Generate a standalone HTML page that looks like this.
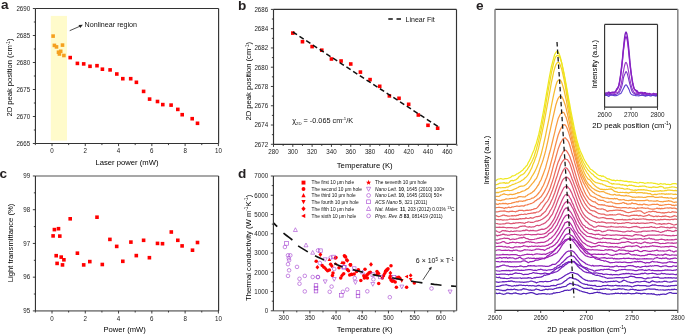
<!DOCTYPE html>
<html><head><meta charset="utf-8"><style>
html,body{margin:0;padding:0;background:#fff;width:685px;height:334px;overflow:hidden}
svg{display:block;will-change:transform}
text{font-family:"Liberation Sans",sans-serif;stroke:none}
</style></head><body>
<svg width="685" height="334" viewBox="0 0 685 334">
<rect x="50.8" y="15.9" width="16.2" height="124.7" fill="#fffbcb"/>
<rect x="51.3" y="34.3" width="3.6" height="3.6" fill="#f5a01e"/>
<rect x="52.6" y="43.6" width="3.6" height="3.6" fill="#f5a01e"/>
<rect x="54.7" y="45.1" width="3.6" height="3.6" fill="#f5a01e"/>
<rect x="60.7" y="43.3" width="3.6" height="3.6" fill="#f5a01e"/>
<rect x="56.7" y="50.4" width="3.6" height="3.6" fill="#f5a01e"/>
<rect x="58.9" y="49.5" width="3.6" height="3.6" fill="#f5a01e"/>
<rect x="57.6" y="52.2" width="3.6" height="3.6" fill="#f5a01e"/>
<rect x="62.1" y="53.7" width="3.6" height="3.6" fill="#f5a01e"/>
<rect x="68.4" y="55.8" width="3.6" height="3.6" fill="#ff0000"/>
<rect x="75.6" y="61.6" width="3.6" height="3.6" fill="#ff0000"/>
<rect x="81.9" y="62.1" width="3.6" height="3.6" fill="#ff0000"/>
<rect x="88.2" y="64.5" width="3.6" height="3.6" fill="#ff0000"/>
<rect x="95.2" y="63.9" width="3.6" height="3.6" fill="#ff0000"/>
<rect x="100.6" y="67.4" width="3.6" height="3.6" fill="#ff0000"/>
<rect x="108.3" y="68.1" width="3.6" height="3.6" fill="#ff0000"/>
<rect x="115" y="72.2" width="3.6" height="3.6" fill="#ff0000"/>
<rect x="121" y="76.9" width="3.6" height="3.6" fill="#ff0000"/>
<rect x="128.9" y="76.9" width="3.6" height="3.6" fill="#ff0000"/>
<rect x="134.6" y="80.5" width="3.6" height="3.6" fill="#ff0000"/>
<rect x="141.8" y="89.6" width="3.6" height="3.6" fill="#ff0000"/>
<rect x="147.8" y="97.3" width="3.6" height="3.6" fill="#ff0000"/>
<rect x="155.7" y="99.7" width="3.6" height="3.6" fill="#ff0000"/>
<rect x="161" y="102.8" width="3.6" height="3.6" fill="#ff0000"/>
<rect x="169.3" y="103.3" width="3.6" height="3.6" fill="#ff0000"/>
<rect x="176" y="107.6" width="3.6" height="3.6" fill="#ff0000"/>
<rect x="180.4" y="112.9" width="3.6" height="3.6" fill="#ff0000"/>
<rect x="190.4" y="116.9" width="3.6" height="3.6" fill="#ff0000"/>
<rect x="195.7" y="121.5" width="3.6" height="3.6" fill="#ff0000"/>
<path d="M35.45 8.5H218.6" stroke="#333" stroke-width="1.15"/>
<path d="M35.45 143.5H218.6" stroke="#333" stroke-width="1.15"/>
<path d="M35.45 8.5V143.5" stroke="#333" stroke-width="1.15"/>
<path d="M218.6 8.5V143.5" stroke="#333" stroke-width="1.15"/>
<path d="M52 143.5v2.6M85.28 143.5v2.6M118.56 143.5v2.6M151.84 143.5v2.6M185.12 143.5v2.6M218.4 143.5v2.6M35.36 143.5v1.6M68.64 143.5v1.6M101.92 143.5v1.6M135.2 143.5v1.6M168.48 143.5v1.6M201.76 143.5v1.6" stroke="#2a2a2a" stroke-width="0.9" fill="none"/>
<text transform="translate(52,153.1) scale(0.94,1)" font-size="6.6" text-anchor="middle" fill="#222">0</text>
<text transform="translate(85.28,153.1) scale(0.94,1)" font-size="6.6" text-anchor="middle" fill="#222">2</text>
<text transform="translate(118.56,153.1) scale(0.94,1)" font-size="6.6" text-anchor="middle" fill="#222">4</text>
<text transform="translate(151.84,153.1) scale(0.94,1)" font-size="6.6" text-anchor="middle" fill="#222">6</text>
<text transform="translate(185.12,153.1) scale(0.94,1)" font-size="6.6" text-anchor="middle" fill="#222">8</text>
<text transform="translate(218.4,153.1) scale(0.94,1)" font-size="6.6" text-anchor="middle" fill="#222">10</text>
<path d="M35.45 143.5h-2.6M35.45 116.5h-2.6M35.45 89.5h-2.6M35.45 62.5h-2.6M35.45 35.5h-2.6M35.45 8.5h-2.6M35.45 130h-1.6M35.45 103h-1.6M35.45 76h-1.6M35.45 49h-1.6M35.45 22h-1.6" stroke="#2a2a2a" stroke-width="0.9" fill="none"/>
<text transform="translate(30.15,145.8) scale(0.94,1)" font-size="6.6" text-anchor="end" fill="#222">2665</text>
<text transform="translate(30.15,118.8) scale(0.94,1)" font-size="6.6" text-anchor="end" fill="#222">2670</text>
<text transform="translate(30.15,91.8) scale(0.94,1)" font-size="6.6" text-anchor="end" fill="#222">2675</text>
<text transform="translate(30.15,64.8) scale(0.94,1)" font-size="6.6" text-anchor="end" fill="#222">2680</text>
<text transform="translate(30.15,37.8) scale(0.94,1)" font-size="6.6" text-anchor="end" fill="#222">2685</text>
<text transform="translate(30.15,10.8) scale(0.94,1)" font-size="6.6" text-anchor="end" fill="#222">2690</text>
<text transform="translate(12.3,116.60) rotate(-90)" font-size="7.6" textLength="78.11" lengthAdjust="spacingAndGlyphs" fill="#000">2D peak position (cm<tspan font-size="4.71" dy="-2.74">-1</tspan><tspan dy="2.74">)</tspan></text>
<text x="95.40" y="164.9" font-size="7.6" textLength="63.06" lengthAdjust="spacingAndGlyphs" fill="#000">Laser power (mW)</text>
<path d="M69.7 30.7L80 26.2" stroke="#222" stroke-width="0.8"/><path d="M82.8 24.8l-4.3 0.2l1.8 3.1z" fill="#222"/>
<text x="84.6" y="27" font-size="7.15" fill="#111">Nonlinear region</text>
<text x="1.0" y="8.55" font-size="13.6" font-weight="bold" fill="#231f20" stroke="none">a</text>
<rect x="291.01" y="31.3" width="3.6" height="3.6" fill="#ff0000"/>
<rect x="300.67" y="39.9" width="3.6" height="3.6" fill="#ff0000"/>
<rect x="310.32" y="44.8" width="3.6" height="3.6" fill="#ff0000"/>
<rect x="319.98" y="48.4" width="3.6" height="3.6" fill="#ff0000"/>
<rect x="329.64" y="57.2" width="3.6" height="3.6" fill="#ff0000"/>
<rect x="339.29" y="59.2" width="3.6" height="3.6" fill="#ff0000"/>
<rect x="348.95" y="62.2" width="3.6" height="3.6" fill="#ff0000"/>
<rect x="358.6" y="70.3" width="3.6" height="3.6" fill="#ff0000"/>
<rect x="368.26" y="77.8" width="3.6" height="3.6" fill="#ff0000"/>
<rect x="377.92" y="84.5" width="3.6" height="3.6" fill="#ff0000"/>
<rect x="387.57" y="94.1" width="3.6" height="3.6" fill="#ff0000"/>
<rect x="397.23" y="96.5" width="3.6" height="3.6" fill="#ff0000"/>
<rect x="406.88" y="102.5" width="3.6" height="3.6" fill="#ff0000"/>
<rect x="416.54" y="113.2" width="3.6" height="3.6" fill="#ff0000"/>
<rect x="426.2" y="123.5" width="3.6" height="3.6" fill="#ff0000"/>
<rect x="435.85" y="126.4" width="3.6" height="3.6" fill="#ff0000"/>
<path d="M292.8 32 L438.7 127" stroke="#111" stroke-width="1.5" stroke-dasharray="5 3" fill="none"/>
<path d="M273.5 9.4H456.5" stroke="#333" stroke-width="1.15"/>
<path d="M273.5 144.3H456.5" stroke="#333" stroke-width="1.15"/>
<path d="M273.5 9.4V144.3" stroke="#333" stroke-width="1.15"/>
<path d="M456.5 9.4V144.3" stroke="#333" stroke-width="1.15"/>
<path d="M273.5 144.3v2.6M292.81 144.3v2.6M312.12 144.3v2.6M331.44 144.3v2.6M350.75 144.3v2.6M370.06 144.3v2.6M389.37 144.3v2.6M408.68 144.3v2.6M428 144.3v2.6M447.31 144.3v2.6M283.16 144.3v1.6M302.47 144.3v1.6M321.78 144.3v1.6M341.09 144.3v1.6M360.4 144.3v1.6M379.72 144.3v1.6M399.03 144.3v1.6M418.34 144.3v1.6M437.65 144.3v1.6M456.96 144.3v1.6" stroke="#2a2a2a" stroke-width="0.9" fill="none"/>
<text transform="translate(273.5,153.9) scale(0.94,1)" font-size="6.6" text-anchor="middle" fill="#222">280</text>
<text transform="translate(292.81,153.9) scale(0.94,1)" font-size="6.6" text-anchor="middle" fill="#222">300</text>
<text transform="translate(312.12,153.9) scale(0.94,1)" font-size="6.6" text-anchor="middle" fill="#222">320</text>
<text transform="translate(331.44,153.9) scale(0.94,1)" font-size="6.6" text-anchor="middle" fill="#222">340</text>
<text transform="translate(350.75,153.9) scale(0.94,1)" font-size="6.6" text-anchor="middle" fill="#222">360</text>
<text transform="translate(370.06,153.9) scale(0.94,1)" font-size="6.6" text-anchor="middle" fill="#222">380</text>
<text transform="translate(389.37,153.9) scale(0.94,1)" font-size="6.6" text-anchor="middle" fill="#222">400</text>
<text transform="translate(408.68,153.9) scale(0.94,1)" font-size="6.6" text-anchor="middle" fill="#222">420</text>
<text transform="translate(428,153.9) scale(0.94,1)" font-size="6.6" text-anchor="middle" fill="#222">440</text>
<text transform="translate(447.31,153.9) scale(0.94,1)" font-size="6.6" text-anchor="middle" fill="#222">460</text>
<path d="M273.5 144.3h-2.6M273.5 125.03h-2.6M273.5 105.76h-2.6M273.5 86.48h-2.6M273.5 67.21h-2.6M273.5 47.94h-2.6M273.5 28.67h-2.6M273.5 9.4h-2.6M273.5 134.66h-1.6M273.5 115.39h-1.6M273.5 96.12h-1.6M273.5 76.85h-1.6M273.5 57.58h-1.6M273.5 38.3h-1.6M273.5 19.03h-1.6" stroke="#2a2a2a" stroke-width="0.9" fill="none"/>
<text transform="translate(268.2,146.6) scale(0.94,1)" font-size="6.6" text-anchor="end" fill="#222">2672</text>
<text transform="translate(268.2,127.33) scale(0.94,1)" font-size="6.6" text-anchor="end" fill="#222">2674</text>
<text transform="translate(268.2,108.06) scale(0.94,1)" font-size="6.6" text-anchor="end" fill="#222">2676</text>
<text transform="translate(268.2,88.78) scale(0.94,1)" font-size="6.6" text-anchor="end" fill="#222">2678</text>
<text transform="translate(268.2,69.51) scale(0.94,1)" font-size="6.6" text-anchor="end" fill="#222">2680</text>
<text transform="translate(268.2,50.24) scale(0.94,1)" font-size="6.6" text-anchor="end" fill="#222">2682</text>
<text transform="translate(268.2,30.97) scale(0.94,1)" font-size="6.6" text-anchor="end" fill="#222">2684</text>
<text transform="translate(268.2,11.7) scale(0.94,1)" font-size="6.6" text-anchor="end" fill="#222">2686</text>
<text transform="translate(251.3,120.60) rotate(-90)" font-size="7.6" textLength="78.72" lengthAdjust="spacingAndGlyphs" fill="#000">2D peak position (cm<tspan font-size="4.71" dy="-2.74">-1</tspan><tspan dy="2.74">)</tspan></text>
<text x="336.75" y="167.5" font-size="7.6" textLength="55.94" lengthAdjust="spacingAndGlyphs" fill="#000">Temperature (K)</text>
<path d="M388.3 19h4.5M396.5 19h4.5" stroke="#111" stroke-width="1.5"/>
<text x="405.6" y="21.5" font-size="7" fill="#111">Linear Fit</text>
<text x="292.2" y="122.9" font-size="7.3" fill="#111">χ<tspan font-size="4.3" dy="2">2D</tspan><tspan dy="-2"> = -0.065 cm</tspan><tspan font-size="4.3" dy="-2.8">-1</tspan><tspan dy="2.8">/K</tspan></text>
<text x="238.0" y="9.5" font-size="13.6" font-weight="bold" fill="#231f20" stroke="none">b</text>
<rect x="51.3" y="234.1" width="3.6" height="3.6" fill="#ff0000"/>
<rect x="52.6" y="227.8" width="3.6" height="3.6" fill="#ff0000"/>
<rect x="54.4" y="253.9" width="3.6" height="3.6" fill="#ff0000"/>
<rect x="55.3" y="261.6" width="3.6" height="3.6" fill="#ff0000"/>
<rect x="56.7" y="226.9" width="3.6" height="3.6" fill="#ff0000"/>
<rect x="58" y="234.3" width="3.6" height="3.6" fill="#ff0000"/>
<rect x="59.4" y="255.3" width="3.6" height="3.6" fill="#ff0000"/>
<rect x="60.7" y="263.1" width="3.6" height="3.6" fill="#ff0000"/>
<rect x="62.1" y="258" width="3.6" height="3.6" fill="#ff0000"/>
<rect x="68.4" y="217" width="3.6" height="3.6" fill="#ff0000"/>
<rect x="75.6" y="251.4" width="3.6" height="3.6" fill="#ff0000"/>
<rect x="81.9" y="263.1" width="3.6" height="3.6" fill="#ff0000"/>
<rect x="88" y="259.8" width="3.6" height="3.6" fill="#ff0000"/>
<rect x="95.2" y="215.4" width="3.6" height="3.6" fill="#ff0000"/>
<rect x="100.5" y="262.7" width="3.6" height="3.6" fill="#ff0000"/>
<rect x="108.1" y="237.6" width="3.6" height="3.6" fill="#ff0000"/>
<rect x="114.9" y="244.6" width="3.6" height="3.6" fill="#ff0000"/>
<rect x="121" y="259.5" width="3.6" height="3.6" fill="#ff0000"/>
<rect x="129.1" y="240.3" width="3.6" height="3.6" fill="#ff0000"/>
<rect x="134.5" y="253.8" width="3.6" height="3.6" fill="#ff0000"/>
<rect x="141.8" y="238.5" width="3.6" height="3.6" fill="#ff0000"/>
<rect x="147.6" y="255.9" width="3.6" height="3.6" fill="#ff0000"/>
<rect x="155.7" y="241.6" width="3.6" height="3.6" fill="#ff0000"/>
<rect x="160.7" y="241.9" width="3.6" height="3.6" fill="#ff0000"/>
<rect x="169.5" y="230.2" width="3.6" height="3.6" fill="#ff0000"/>
<rect x="176" y="238.5" width="3.6" height="3.6" fill="#ff0000"/>
<rect x="180.3" y="244.1" width="3.6" height="3.6" fill="#ff0000"/>
<rect x="190.7" y="248.4" width="3.6" height="3.6" fill="#ff0000"/>
<rect x="195.7" y="240.7" width="3.6" height="3.6" fill="#ff0000"/>
<path d="M35.45 176H218.6" stroke="#8a8a8a" stroke-width="1.6"/>
<path d="M35.45 310.9H218.6" stroke="#8a8a8a" stroke-width="1.6"/>
<path d="M35.45 176V310.9" stroke="#333" stroke-width="1.15"/>
<path d="M218.6 176V310.9" stroke="#333" stroke-width="1.15"/>
<path d="M52 310.9v2.6M85.28 310.9v2.6M118.56 310.9v2.6M151.84 310.9v2.6M185.12 310.9v2.6M218.4 310.9v2.6M35.36 310.9v1.6M68.64 310.9v1.6M101.92 310.9v1.6M135.2 310.9v1.6M168.48 310.9v1.6M201.76 310.9v1.6" stroke="#2a2a2a" stroke-width="0.9" fill="none"/>
<text transform="translate(52,320.5) scale(0.94,1)" font-size="6.6" text-anchor="middle" fill="#222">0</text>
<text transform="translate(85.28,320.5) scale(0.94,1)" font-size="6.6" text-anchor="middle" fill="#222">2</text>
<text transform="translate(118.56,320.5) scale(0.94,1)" font-size="6.6" text-anchor="middle" fill="#222">4</text>
<text transform="translate(151.84,320.5) scale(0.94,1)" font-size="6.6" text-anchor="middle" fill="#222">6</text>
<text transform="translate(185.12,320.5) scale(0.94,1)" font-size="6.6" text-anchor="middle" fill="#222">8</text>
<text transform="translate(218.4,320.5) scale(0.94,1)" font-size="6.6" text-anchor="middle" fill="#222">10</text>
<path d="M35.45 310.9h-2.6M35.45 277.17h-2.6M35.45 243.44h-2.6M35.45 209.71h-2.6M35.45 175.98h-2.6M35.45 294.03h-1.6M35.45 260.3h-1.6M35.45 226.57h-1.6M35.45 192.84h-1.6" stroke="#2a2a2a" stroke-width="0.9" fill="none"/>
<text transform="translate(30.15,313.2) scale(0.94,1)" font-size="6.6" text-anchor="end" fill="#222">95</text>
<text transform="translate(30.15,279.47) scale(0.94,1)" font-size="6.6" text-anchor="end" fill="#222">96</text>
<text transform="translate(30.15,245.74) scale(0.94,1)" font-size="6.6" text-anchor="end" fill="#222">97</text>
<text transform="translate(30.15,212.01) scale(0.94,1)" font-size="6.6" text-anchor="end" fill="#222">98</text>
<text transform="translate(30.15,178.28) scale(0.94,1)" font-size="6.6" text-anchor="end" fill="#222">99</text>
<text transform="translate(13.2,282.30) rotate(-90)" font-size="7.6" textLength="78.63" lengthAdjust="spacingAndGlyphs" fill="#000">Light transmittance (%)</text>
<text x="103.50" y="331.9" font-size="7.6" textLength="42.24" lengthAdjust="spacingAndGlyphs" fill="#000">Power (mW)</text>
<text x="-0.5" y="177.85" font-size="13.6" font-weight="bold" fill="#231f20" stroke="none">c</text>
<path d="M320.4 252.32L322.32 254.6L320.4 256.88L318.47 254.6Z" fill="#ff0000" stroke="none"/>
<circle cx="316.2" cy="261.2" r="1.75" fill="#ff0000" stroke="none"/>
<circle cx="322.2" cy="265.4" r="1.75" fill="#ff0000" stroke="none"/>
<circle cx="324" cy="267.2" r="1.75" fill="#ff0000" stroke="none"/>
<path d="M325.8 266.73L327.73 269L325.8 271.27L323.88 269Z" fill="#ff0000" stroke="none"/>
<circle cx="327.6" cy="270.7" r="1.75" fill="#ff0000" stroke="none"/>
<circle cx="329.4" cy="270.1" r="1.75" fill="#ff0000" stroke="none"/>
<path d="M317.4 264.93L319.32 267.2L317.4 269.47L315.47 267.2Z" fill="#ff0000" stroke="none"/>
<circle cx="330.6" cy="264.2" r="1.75" fill="#ff0000" stroke="none"/>
<path d="M331.8 263.73L333.73 266L331.8 268.27L329.88 266Z" fill="#ff0000" stroke="none"/>
<circle cx="336" cy="257.6" r="1.75" fill="#ff0000" stroke="none"/>
<circle cx="333" cy="273.1" r="1.75" fill="#ff0000" stroke="none"/>
<circle cx="332.4" cy="275.5" r="1.75" fill="#ff0000" stroke="none"/>
<circle cx="339" cy="267.8" r="1.75" fill="#ff0000" stroke="none"/>
<circle cx="345" cy="256.4" r="1.75" fill="#ff0000" stroke="none"/>
<circle cx="346.7" cy="260" r="1.75" fill="#ff0000" stroke="none"/>
<circle cx="350.3" cy="264.8" r="1.75" fill="#ff0000" stroke="none"/>
<circle cx="347.3" cy="269.6" r="1.75" fill="#ff0000" stroke="none"/>
<circle cx="348.5" cy="270.7" r="1.75" fill="#ff0000" stroke="none"/>
<circle cx="343.7" cy="273.7" r="1.75" fill="#ff0000" stroke="none"/>
<path d="M342 273.23L343.93 275.5L342 277.77L340.07 275.5Z" fill="#ff0000" stroke="none"/>
<circle cx="340.7" cy="277.9" r="1.75" fill="#ff0000" stroke="none"/>
<circle cx="349.7" cy="274.9" r="1.75" fill="#ff0000" stroke="none"/>
<circle cx="351.5" cy="274.3" r="1.75" fill="#ff0000" stroke="none"/>
<circle cx="343.7" cy="263" r="1.75" fill="#ff0000" stroke="none"/>
<circle cx="335.4" cy="258.1" r="1.75" fill="#ff0000" stroke="none"/>
<circle cx="344.4" cy="255.7" r="1.75" fill="#ff0000" stroke="none"/>
<circle cx="345.6" cy="256.9" r="1.75" fill="#ff0000" stroke="none"/>
<path d="M347.4 258.23L349.32 260.5L347.4 262.77L345.47 260.5Z" fill="#ff0000" stroke="none"/>
<circle cx="350.4" cy="264.7" r="1.75" fill="#ff0000" stroke="none"/>
<circle cx="350.6" cy="265" r="1.75" fill="#ff0000" stroke="none"/>
<path d="M371 262.12L372.93 264.4L371 266.67L369.07 264.4Z" fill="#ff0000" stroke="none"/>
<circle cx="358.4" cy="269.8" r="1.75" fill="#ff0000" stroke="none"/>
<circle cx="356.6" cy="271.6" r="1.75" fill="#ff0000" stroke="none"/>
<circle cx="365" cy="269.2" r="1.75" fill="#ff0000" stroke="none"/>
<circle cx="351.8" cy="274.6" r="1.75" fill="#ff0000" stroke="none"/>
<circle cx="354.2" cy="274" r="1.75" fill="#ff0000" stroke="none"/>
<circle cx="360.8" cy="280.5" r="1.75" fill="#ff0000" stroke="none"/>
<circle cx="363.8" cy="275.7" r="1.75" fill="#ff0000" stroke="none"/>
<circle cx="365.6" cy="276.9" r="1.75" fill="#ff0000" stroke="none"/>
<circle cx="366.8" cy="275.1" r="1.75" fill="#ff0000" stroke="none"/>
<circle cx="368" cy="274" r="1.75" fill="#ff0000" stroke="none"/>
<circle cx="369.2" cy="272.8" r="1.75" fill="#ff0000" stroke="none"/>
<circle cx="370.4" cy="272.2" r="1.75" fill="#ff0000" stroke="none"/>
<circle cx="364.4" cy="278.1" r="1.75" fill="#ff0000" stroke="none"/>
<circle cx="367.4" cy="278.1" r="1.75" fill="#ff0000" stroke="none"/>
<circle cx="377" cy="271.6" r="1.75" fill="#ff0000" stroke="none"/>
<path d="M378.7 271.12L380.62 273.4L378.7 275.67L376.77 273.4Z" fill="#ff0000" stroke="none"/>
<circle cx="377" cy="274.6" r="1.75" fill="#ff0000" stroke="none"/>
<circle cx="383.5" cy="275.7" r="1.75" fill="#ff0000" stroke="none"/>
<circle cx="382.3" cy="278.1" r="1.75" fill="#ff0000" stroke="none"/>
<path d="M384.7 271.12L386.62 273.4L384.7 275.67L382.77 273.4Z" fill="#ff0000" stroke="none"/>
<circle cx="387.1" cy="269.8" r="1.75" fill="#ff0000" stroke="none"/>
<circle cx="385.9" cy="271" r="1.75" fill="#ff0000" stroke="none"/>
<circle cx="378.7" cy="283.5" r="1.75" fill="#ff0000" stroke="none"/>
<circle cx="391" cy="265.8" r="1.75" fill="#ff0000" stroke="none"/>
<circle cx="386.8" cy="270" r="1.75" fill="#ff0000" stroke="none"/>
<circle cx="388" cy="268.8" r="1.75" fill="#ff0000" stroke="none"/>
<circle cx="385.6" cy="271.2" r="1.75" fill="#ff0000" stroke="none"/>
<path d="M390.4 270.73L392.32 273L390.4 275.27L388.47 273Z" fill="#ff0000" stroke="none"/>
<path d="M390.4 273.73L392.32 276L390.4 278.27L388.47 276Z" fill="#ff0000" stroke="none"/>
<circle cx="389.8" cy="277.8" r="1.75" fill="#ff0000" stroke="none"/>
<circle cx="391.6" cy="279.6" r="1.75" fill="#ff0000" stroke="none"/>
<circle cx="393.4" cy="280.7" r="1.75" fill="#ff0000" stroke="none"/>
<circle cx="395.2" cy="281.9" r="1.75" fill="#ff0000" stroke="none"/>
<circle cx="392.2" cy="281.3" r="1.75" fill="#ff0000" stroke="none"/>
<circle cx="391" cy="280.1" r="1.75" fill="#ff0000" stroke="none"/>
<path d="M397 275.53L398.93 277.8L397 280.07L395.07 277.8Z" fill="#ff0000" stroke="none"/>
<circle cx="398.8" cy="277.2" r="1.75" fill="#ff0000" stroke="none"/>
<circle cx="400" cy="278.4" r="1.75" fill="#ff0000" stroke="none"/>
<circle cx="414.3" cy="283.1" r="1.75" fill="#ff0000" stroke="none"/>
<circle cx="396.4" cy="287.3" r="1.75" fill="#ff0000" stroke="none"/>
<circle cx="406.6" cy="287.3" r="1.75" fill="#ff0000" stroke="none"/>
<path d="M329.4 257.42L331.21 260.88H327.58Z" fill="#ff0000" stroke="none"/>
<path d="M342 260.52L343.81 263.99H340.19Z" fill="#ff0000" stroke="none"/>
<path d="M335.7 261.66L336.24 263.05L337.74 263.14L336.58 264.09L336.96 265.54L335.7 264.72L334.44 265.54L334.82 264.09L333.66 263.14L335.16 263.05Z" fill="#ff0000"/>
<path d="M401.8 282.68L403.62 279.21H399.99Z" fill="#ff0000" stroke="none"/>
<path d="M410.7 281.58L412.51 278.12H408.88Z" fill="#ff0000" stroke="none"/>
<path d="M404.62 276.6L408.09 274.79V278.42Z" fill="#ff0000" stroke="none"/>
<path d="M410.7 273.25L412.51 275.4L410.7 277.54L408.88 275.4Z" fill="#ff0000" stroke="none"/>
<path d="M295.4 227.74L297.38 231.52H293.42Z" fill="none" stroke="#a23fd0" stroke-width="0.6"/>
<rect x="284.7" y="241.6" width="3.6" height="3.6" fill="none" stroke="#a23fd0" stroke-width="0.6"/>
<circle cx="284.9" cy="247" r="1.8" fill="none" stroke="#a23fd0" stroke-width="0.6"/>
<path d="M306 243.04L307.98 246.82H304.02Z" fill="none" stroke="#a23fd0" stroke-width="0.6"/>
<path d="M312.7 250.44L314.68 254.22H310.72Z" fill="none" stroke="#a23fd0" stroke-width="0.6"/>
<circle cx="288" cy="255.3" r="1.8" fill="none" stroke="#a23fd0" stroke-width="0.6"/>
<circle cx="290.3" cy="255.3" r="1.8" fill="none" stroke="#a23fd0" stroke-width="0.6"/>
<circle cx="288.7" cy="258.2" r="1.8" fill="none" stroke="#a23fd0" stroke-width="0.6"/>
<circle cx="289.1" cy="260.2" r="1.8" fill="none" stroke="#a23fd0" stroke-width="0.6"/>
<circle cx="288" cy="264.2" r="1.8" fill="none" stroke="#a23fd0" stroke-width="0.6"/>
<circle cx="297" cy="266.9" r="1.8" fill="none" stroke="#a23fd0" stroke-width="0.6"/>
<circle cx="289.1" cy="270.3" r="1.8" fill="none" stroke="#a23fd0" stroke-width="0.6"/>
<circle cx="288" cy="275.9" r="1.8" fill="none" stroke="#a23fd0" stroke-width="0.6"/>
<circle cx="304.8" cy="275.9" r="1.8" fill="none" stroke="#a23fd0" stroke-width="0.6"/>
<circle cx="299.5" cy="278.8" r="1.8" fill="none" stroke="#a23fd0" stroke-width="0.6"/>
<circle cx="299.5" cy="283.7" r="1.8" fill="none" stroke="#a23fd0" stroke-width="0.6"/>
<circle cx="312.7" cy="277" r="1.8" fill="none" stroke="#a23fd0" stroke-width="0.6"/>
<circle cx="317.8" cy="277" r="1.8" fill="none" stroke="#a23fd0" stroke-width="0.6"/>
<rect x="314.2" y="283.7" width="3.6" height="3.6" fill="none" stroke="#a23fd0" stroke-width="0.6"/>
<rect x="314.2" y="286.4" width="3.6" height="3.6" fill="none" stroke="#a23fd0" stroke-width="0.6"/>
<rect x="314.2" y="289.3" width="3.6" height="3.6" fill="none" stroke="#a23fd0" stroke-width="0.6"/>
<circle cx="304.8" cy="291.4" r="1.8" fill="none" stroke="#a23fd0" stroke-width="0.6"/>
<circle cx="318" cy="250.4" r="1.8" fill="none" stroke="#a23fd0" stroke-width="0.6"/>
<rect x="318.6" y="248.9" width="3.6" height="3.6" fill="none" stroke="#a23fd0" stroke-width="0.6"/>
<path d="M325.2 261.56L327.18 257.78H323.22Z" fill="none" stroke="#a23fd0" stroke-width="0.6"/>
<circle cx="319.8" cy="263" r="1.8" fill="none" stroke="#a23fd0" stroke-width="0.6"/>
<circle cx="330.6" cy="257.6" r="1.8" fill="none" stroke="#a23fd0" stroke-width="0.6"/>
<rect x="331.8" y="255.2" width="3.6" height="3.6" fill="none" stroke="#a23fd0" stroke-width="0.6"/>
<circle cx="334.2" cy="269" r="1.8" fill="none" stroke="#a23fd0" stroke-width="0.6"/>
<rect x="341.9" y="265.4" width="3.6" height="3.6" fill="none" stroke="#a23fd0" stroke-width="0.6"/>
<circle cx="318" cy="277.1" r="1.8" fill="none" stroke="#a23fd0" stroke-width="0.6"/>
<path d="M325.2 283.66L327.18 279.88H323.22Z" fill="none" stroke="#a23fd0" stroke-width="0.6"/>
<path d="M334.2 281.26L336.18 277.48H332.22Z" fill="none" stroke="#a23fd0" stroke-width="0.6"/>
<rect x="352.4" y="266.8" width="3.6" height="3.6" fill="none" stroke="#a23fd0" stroke-width="0.6"/>
<path d="M362.6 270.04L364.58 273.82H360.62Z" fill="none" stroke="#a23fd0" stroke-width="0.6"/>
<circle cx="354.8" cy="278.1" r="1.8" fill="none" stroke="#a23fd0" stroke-width="0.6"/>
<path d="M355.4 284.46L357.38 280.68H353.42Z" fill="none" stroke="#a23fd0" stroke-width="0.6"/>
<rect x="371" y="272.8" width="3.6" height="3.6" fill="none" stroke="#a23fd0" stroke-width="0.6"/>
<circle cx="373.4" cy="279.3" r="1.8" fill="none" stroke="#a23fd0" stroke-width="0.6"/>
<path d="M372.8 286.26L374.78 282.48H370.82Z" fill="none" stroke="#a23fd0" stroke-width="0.6"/>
<rect x="378.7" y="275.2" width="3.6" height="3.6" fill="none" stroke="#a23fd0" stroke-width="0.6"/>
<rect x="392.2" y="275.4" width="3.6" height="3.6" fill="none" stroke="#a23fd0" stroke-width="0.6"/>
<path d="M401.8 288.86L403.78 285.08H399.82Z" fill="none" stroke="#a23fd0" stroke-width="0.6"/>
<rect x="342.6" y="265.3" width="3.6" height="3.6" fill="none" stroke="#a23fd0" stroke-width="0.6"/>
<circle cx="331.6" cy="286.6" r="1.8" fill="none" stroke="#a23fd0" stroke-width="0.6"/>
<circle cx="329.7" cy="291.8" r="1.8" fill="none" stroke="#a23fd0" stroke-width="0.6"/>
<circle cx="342.9" cy="291.8" r="1.8" fill="none" stroke="#a23fd0" stroke-width="0.6"/>
<circle cx="347.2" cy="289.5" r="1.8" fill="none" stroke="#a23fd0" stroke-width="0.6"/>
<rect x="339.5" y="293.5" width="3.6" height="3.6" fill="none" stroke="#a23fd0" stroke-width="0.6"/>
<rect x="356.2" y="290.7" width="3.6" height="3.6" fill="none" stroke="#a23fd0" stroke-width="0.6"/>
<rect x="356.2" y="294.2" width="3.6" height="3.6" fill="none" stroke="#a23fd0" stroke-width="0.6"/>
<circle cx="367.3" cy="291.3" r="1.8" fill="none" stroke="#a23fd0" stroke-width="0.6"/>
<circle cx="389.8" cy="297.2" r="1.8" fill="none" stroke="#a23fd0" stroke-width="0.6"/>
<circle cx="431.5" cy="288.5" r="1.8" fill="none" stroke="#a23fd0" stroke-width="0.6"/>
<path d="M450.1 293.86L452.08 290.08H448.12Z" fill="none" stroke="#a23fd0" stroke-width="0.6"/>
<path d="M273.4 222.8L274.7 224.1L275.9 225.4L277.2 226.7M283.5 233.2L286.5 235.5L289.4 237.7L292.4 240.0M298.1 245.9L301.3 247.9L304.6 249.9L307.8 251.9M315.0 255.8L318.0 257.2L321.0 258.6L324.0 260.0M334.2 263.5L337.0 264.7L339.7 265.8L342.5 267.0M353.0 269.6L356.3 270.5L359.7 271.4L363.0 272.3M372.5 274.6L375.3 275.1L378.2 275.7L381.0 276.2M392.2 277.7L395.7 278.5L399.2 279.2L402.7 280.0M411.0 281.1L414.8 281.7L418.6 282.3L422.4 282.9M430.7 283.9L434.3 284.4L437.9 284.8L441.5 285.3M451.0 286.0L452.9 286.1L454.7 286.3L456.6 286.4" stroke="#111" stroke-width="1.65" fill="none"/>
<path d="M422.9 279.9L430.4 268.6" stroke="#222" stroke-width="0.8"/><path d="M431.8 266.7l-3.2 1.6l2.4 1.6z" fill="#222"/>
<text x="415.8" y="263.3" font-size="7" fill="#111">6 × 10<tspan font-size="4.5" dy="-2.5">5</tspan><tspan dy="2.5"> × T</tspan><tspan font-size="4.5" dy="-2.5">-1</tspan></text>
<path d="M273.4 176H456.6" stroke="#8a8a8a" stroke-width="1.6"/>
<path d="M273.4 310.8H456.6" stroke="#8a8a8a" stroke-width="1.6"/>
<path d="M273.4 176V310.8" stroke="#333" stroke-width="1.15"/>
<path d="M456.6 176V310.8" stroke="#555" stroke-width="1.3"/>
<path d="M283.7 310.8v2.6M309.88 310.8v2.6M336.07 310.8v2.6M362.25 310.8v2.6M388.44 310.8v2.6M414.62 310.8v2.6M440.81 310.8v2.6M296.79 310.8v1.6M322.98 310.8v1.6M349.16 310.8v1.6M375.35 310.8v1.6M401.53 310.8v1.6M427.72 310.8v1.6M453.9 310.8v1.6" stroke="#2a2a2a" stroke-width="0.9" fill="none"/>
<text transform="translate(283.7,320.4) scale(0.94,1)" font-size="6.6" text-anchor="middle" fill="#222">300</text>
<text transform="translate(309.88,320.4) scale(0.94,1)" font-size="6.6" text-anchor="middle" fill="#222">350</text>
<text transform="translate(336.07,320.4) scale(0.94,1)" font-size="6.6" text-anchor="middle" fill="#222">400</text>
<text transform="translate(362.25,320.4) scale(0.94,1)" font-size="6.6" text-anchor="middle" fill="#222">450</text>
<text transform="translate(388.44,320.4) scale(0.94,1)" font-size="6.6" text-anchor="middle" fill="#222">500</text>
<text transform="translate(414.62,320.4) scale(0.94,1)" font-size="6.6" text-anchor="middle" fill="#222">550</text>
<text transform="translate(440.81,320.4) scale(0.94,1)" font-size="6.6" text-anchor="middle" fill="#222">600</text>
<path d="M273.4 310.8h-2.6M273.4 291.54h-2.6M273.4 272.29h-2.6M273.4 253.03h-2.6M273.4 233.77h-2.6M273.4 214.52h-2.6M273.4 195.26h-2.6M273.4 176h-2.6M273.4 301.17h-1.6M273.4 281.91h-1.6M273.4 262.66h-1.6M273.4 243.4h-1.6M273.4 224.14h-1.6M273.4 204.89h-1.6M273.4 185.63h-1.6" stroke="#2a2a2a" stroke-width="0.9" fill="none"/>
<text transform="translate(268.1,313.1) scale(0.94,1)" font-size="6.6" text-anchor="end" fill="#222">0</text>
<text transform="translate(268.1,293.84) scale(0.94,1)" font-size="6.6" text-anchor="end" fill="#222">1000</text>
<text transform="translate(268.1,274.59) scale(0.94,1)" font-size="6.6" text-anchor="end" fill="#222">2000</text>
<text transform="translate(268.1,255.33) scale(0.94,1)" font-size="6.6" text-anchor="end" fill="#222">3000</text>
<text transform="translate(268.1,236.07) scale(0.94,1)" font-size="6.6" text-anchor="end" fill="#222">4000</text>
<text transform="translate(268.1,216.82) scale(0.94,1)" font-size="6.6" text-anchor="end" fill="#222">5000</text>
<text transform="translate(268.1,197.56) scale(0.94,1)" font-size="6.6" text-anchor="end" fill="#222">6000</text>
<text transform="translate(268.1,178.3) scale(0.94,1)" font-size="6.6" text-anchor="end" fill="#222">7000</text>
<text transform="translate(250.5,300.95) rotate(-90)" font-size="7.6" textLength="106.20" lengthAdjust="spacingAndGlyphs" fill="#000">Thermal conductivity (W m<tspan font-size="4.7" dy="-2.7">-1</tspan><tspan dy="2.7">K</tspan><tspan font-size="4.7" dy="-2.7">-1</tspan><tspan dy="2.7">)</tspan></text>
<text x="336.75" y="331.9" font-size="7.6" textLength="55.94" lengthAdjust="spacingAndGlyphs" fill="#000">Temperature (K)</text>
<rect x="301.55" y="180.65" width="3.9" height="3.9" fill="#ff0000" stroke="none"/>
<text x="311.6" y="184.4" font-size="4.8" fill="#111">The first 10 μm hole</text>
<circle cx="303.5" cy="189" r="1.95" fill="#ff0000" stroke="none"/>
<text x="311.6" y="190.8" font-size="4.8" fill="#111">The second 10 μm hole</text>
<path d="M303.5 193.06L305.64 197.16H301.36Z" fill="#ff0000" stroke="none"/>
<text x="311.6" y="197.2" font-size="4.8" fill="#111">The third 10 μm hole</text>
<path d="M303.5 204.14L305.64 200.05H301.36Z" fill="#ff0000" stroke="none"/>
<text x="311.6" y="203.6" font-size="4.8" fill="#111">The fourth 10 μm hole</text>
<path d="M303.5 206.27L305.64 208.8L303.5 211.34L301.36 208.8Z" fill="#ff0000" stroke="none"/>
<text x="311.6" y="210.6" font-size="4.8" fill="#111">The fifth 10 μm hole</text>
<path d="M301.16 215.9L305.25 213.75V218.05Z" fill="#ff0000" stroke="none"/>
<text x="311.6" y="217.7" font-size="4.8" fill="#111">The sixth 10 μm hole</text>
<path d="M368.6 179.87L369.29 181.65L371.2 181.76L369.72 182.96L370.2 184.81L368.6 183.78L367 184.81L367.48 182.96L366 181.76L367.91 181.65Z" fill="#ff0000"/>
<text x="375.1" y="184.4" font-size="4.8" fill="#111">The seventh 10 μm hole</text>
<path d="M368.6 191.28L370.69 187.29H366.51Z" fill="none" stroke="#a23fd0" stroke-width="0.6"/>
<text x="375.1" y="190.8" font-size="4.8" fill="#111"><tspan font-style="italic">Nano Lett.</tspan> <tspan font-weight="bold">10</tspan>, 1645 (2010) 100×</text>
<circle cx="368.6" cy="195.4" r="1.9" fill="none" stroke="#a23fd0" stroke-width="0.6"/>
<text x="375.1" y="197.2" font-size="4.8" fill="#111"><tspan font-style="italic">Nano Lett.</tspan> <tspan font-weight="bold">10</tspan>, 1645 (2010) 50×</text>
<rect x="366.7" y="199.9" width="3.8" height="3.8" fill="none" stroke="#a23fd0" stroke-width="0.6"/>
<text x="375.1" y="203.6" font-size="4.8" fill="#111"><tspan font-style="italic">ACS Nano</tspan> <tspan font-weight="bold">5</tspan>, 321 (2011)</text>
<path d="M368.6 206.52L370.69 210.51H366.51Z" fill="none" stroke="#a23fd0" stroke-width="0.6"/>
<text x="375.1" y="210.6" font-size="4.8" fill="#111"><tspan font-style="italic">Nat. Mater.</tspan> <tspan font-weight="bold">11</tspan>, 203 (2012) 0.01% <tspan font-size="3.5" dy="-1.8">13</tspan><tspan dy="1.8">C</tspan></text>
<circle cx="368.6" cy="215.9" r="1.9" fill="none" stroke="#a23fd0" stroke-width="0.6"/>
<text x="375.1" y="217.7" font-size="4.8" fill="#111"><tspan font-style="italic">Phys. Rev. B</tspan> <tspan font-weight="bold">83</tspan>, 081419 (2011)</text>
<text x="238.1" y="177.9" font-size="13.6" font-weight="bold" fill="#231f20" stroke="none">d</text>
<polyline points="495.0,293.8 496.1,293.1 497.3,293.6 498.4,293.4 499.6,293.1 500.7,293.5 501.9,293.8 503.0,294.3 504.2,294.2 505.3,294.0 506.5,293.2 507.6,293.0 508.8,293.1 509.9,293.7 511.1,293.7 512.2,293.8 513.4,293.2 514.5,293.1 515.7,292.8 516.8,293.5 518.0,293.7 519.1,293.9 520.3,294.1 521.4,294.1 522.6,293.6 523.7,293.4 524.9,293.5 526.0,293.8 527.2,293.3 528.3,293.1 529.5,292.8 530.6,292.6 531.8,292.7 532.9,292.9 534.1,293.3 535.2,293.9 536.4,294.3 537.5,294.3 538.7,293.8 539.8,293.9 541.0,293.9 542.1,293.7 543.3,293.7 544.4,293.7 545.6,293.8 546.7,294.1 547.9,293.9 549.0,294.0 550.2,294.0 551.3,293.8 552.5,293.8 553.6,292.9 554.8,293.2 555.9,292.7 557.1,292.6 558.2,292.5 559.4,292.3 560.5,292.0 561.7,291.5 562.8,291.4 564.0,290.7 565.1,290.3 566.3,290.3 567.4,290.0 568.6,290.4 569.7,290.2 570.9,289.8 572.0,288.9 573.2,288.4 574.3,288.4 575.5,288.9 576.6,289.1 577.8,289.8 578.9,290.2 580.1,290.9 581.2,291.0 582.4,291.7 583.5,291.8 584.7,292.1 585.8,292.5 587.0,292.7 588.1,293.1 589.3,293.5 590.4,293.5 591.6,293.4 592.7,293.3 593.9,292.9 595.0,292.7 596.2,292.5 597.3,292.2 598.5,292.6 599.6,292.3 600.8,293.0 601.9,293.2 603.1,293.6 604.2,293.6 605.4,293.7 606.5,294.1 607.7,294.0 608.8,294.0 610.0,294.0 611.1,293.9 612.3,293.8 613.4,293.6 614.6,293.6 615.7,293.2 616.9,293.5 618.0,293.2 619.2,293.5 620.3,293.6 621.5,293.1 622.6,293.6 623.8,293.6 624.9,293.4 626.1,293.6 627.2,293.3 628.4,293.1 629.5,293.5 630.7,293.7 631.8,293.9 633.0,293.5 634.1,293.6 635.3,293.4 636.4,292.9 637.6,293.1 638.7,293.3 639.9,293.4 641.0,293.9 642.2,293.6 643.3,293.3 644.5,293.3 645.6,293.5 646.8,294.0 647.9,293.7 649.1,293.8 650.2,293.8 651.4,293.7 652.5,294.1 653.7,293.8 654.8,294.4 656.0,294.6 657.1,295.0 658.3,294.5 659.4,294.9 660.6,294.4 661.7,294.3 662.9,294.2 664.0,294.2 665.2,294.4 666.3,294.1 667.5,293.5 668.6,293.0 669.8,292.6 670.9,292.7 672.1,293.1 673.2,293.3 674.4,293.3 675.5,293.4 676.7,293.4 677.8,293.2" fill="none" stroke="#5222b8" stroke-width="1.25" stroke-linejoin="round"/>
<polyline points="495.0,289.3 496.1,289.5 497.3,289.5 498.4,289.6 499.6,290.0 500.7,290.0 501.9,290.3 503.0,290.7 504.2,290.4 505.3,290.6 506.5,289.9 507.6,289.4 508.8,289.6 509.9,289.6 511.1,289.4 512.2,289.7 513.4,289.4 514.5,289.0 515.7,289.7 516.8,289.6 518.0,290.2 519.1,290.0 520.3,289.9 521.4,289.9 522.6,289.0 523.7,288.7 524.9,289.1 526.0,289.2 527.2,289.5 528.3,289.8 529.5,290.1 530.6,289.9 531.8,290.3 532.9,290.2 534.1,290.2 535.2,289.4 536.4,289.0 537.5,289.5 538.7,289.7 539.8,290.1 541.0,290.3 542.1,290.4 543.3,289.9 544.4,289.8 545.6,289.2 546.7,289.3 547.9,289.6 549.0,289.0 550.2,289.0 551.3,289.0 552.5,289.4 553.6,289.2 554.8,288.5 555.9,288.4 557.1,287.9 558.2,287.8 559.4,287.4 560.5,287.6 561.7,287.1 562.8,286.9 564.0,286.7 565.1,286.5 566.3,286.1 567.4,284.9 568.6,284.3 569.7,283.4 570.9,283.7 572.0,283.9 573.2,284.2 574.3,284.3 575.5,284.7 576.6,285.0 577.8,285.1 578.9,285.8 580.1,286.3 581.2,287.0 582.4,287.5 583.5,288.2 584.7,288.3 585.8,288.3 587.0,288.2 588.1,288.3 589.3,288.4 590.4,288.0 591.6,288.1 592.7,288.8 593.9,289.1 595.0,289.3 596.2,289.4 597.3,289.6 598.5,289.6 599.6,289.6 600.8,289.1 601.9,289.3 603.1,288.9 604.2,289.2 605.4,288.5 606.5,288.9 607.7,289.1 608.8,289.1 610.0,289.5 611.1,289.8 612.3,289.7 613.4,289.4 614.6,289.3 615.7,289.4 616.9,289.3 618.0,288.9 619.2,288.7 620.3,288.8 621.5,289.1 622.6,288.9 623.8,289.0 624.9,289.5 626.1,289.5 627.2,289.8 628.4,290.0 629.5,289.9 630.7,289.4 631.8,289.5 633.0,289.2 634.1,289.8 635.3,289.6 636.4,289.9 637.6,290.3 638.7,290.2 639.9,290.3 641.0,290.2 642.2,290.2 643.3,289.9 644.5,289.6 645.6,289.7 646.8,289.2 647.9,289.0 649.1,288.9 650.2,289.2 651.4,289.1 652.5,289.1 653.7,289.0 654.8,289.2 656.0,289.6 657.1,289.5 658.3,289.9 659.4,290.0 660.6,289.9 661.7,290.0 662.9,289.9 664.0,290.2 665.2,290.2 666.3,289.8 667.5,289.8 668.6,289.5 669.8,289.9 670.9,289.7 672.1,289.4 673.2,289.6 674.4,289.2 675.5,289.5 676.7,289.7 677.8,289.6" fill="none" stroke="#5822b9" stroke-width="1.25" stroke-linejoin="round"/>
<polyline points="495.0,286.3 496.1,286.5 497.3,286.3 498.4,286.3 499.6,286.2 500.7,285.6 501.9,285.3 503.0,285.0 504.2,285.0 505.3,284.9 506.5,284.7 507.6,285.2 508.8,285.6 509.9,285.5 511.1,286.0 512.2,286.0 513.4,286.0 514.5,285.5 515.7,286.0 516.8,285.4 518.0,285.6 519.1,285.2 520.3,285.0 521.4,285.2 522.6,285.5 523.7,285.3 524.9,285.5 526.0,285.5 527.2,285.3 528.3,285.8 529.5,285.7 530.6,285.6 531.8,285.8 532.9,285.5 534.1,285.8 535.2,286.2 536.4,286.2 537.5,285.6 538.7,285.3 539.8,285.7 541.0,286.0 542.1,286.0 543.3,286.2 544.4,286.6 545.6,286.3 546.7,286.4 547.9,286.4 549.0,286.3 550.2,286.1 551.3,285.7 552.5,285.7 553.6,285.4 554.8,285.6 555.9,285.7 557.1,284.8 558.2,284.3 559.4,284.2 560.5,283.9 561.7,283.5 562.8,282.8 564.0,281.7 565.1,280.9 566.3,280.3 567.4,279.0 568.6,278.5 569.7,277.5 570.9,277.7 572.0,277.9 573.2,278.4 574.3,278.9 575.5,278.9 576.6,279.6 577.8,280.1 578.9,281.0 580.1,282.1 581.2,282.8 582.4,283.5 583.5,283.8 584.7,284.1 585.8,284.5 587.0,284.4 588.1,285.1 589.3,285.2 590.4,285.3 591.6,285.3 592.7,285.6 593.9,285.7 595.0,285.4 596.2,286.1 597.3,286.5 598.5,286.4 599.6,286.4 600.8,286.5 601.9,286.1 603.1,285.5 604.2,285.6 605.4,285.5 606.5,285.5 607.7,285.1 608.8,285.7 610.0,285.6 611.1,285.8 612.3,285.7 613.4,285.8 614.6,285.5 615.7,285.3 616.9,285.6 618.0,285.9 619.2,285.7 620.3,286.0 621.5,285.8 622.6,285.6 623.8,286.0 624.9,285.6 626.1,286.0 627.2,285.7 628.4,286.0 629.5,286.0 630.7,286.3 631.8,286.9 633.0,286.5 634.1,286.1 635.3,285.7 636.4,285.6 637.6,285.3 638.7,285.4 639.9,285.7 641.0,285.6 642.2,285.5 643.3,285.6 644.5,285.6 645.6,285.7 646.8,286.2 647.9,286.2 649.1,286.2 650.2,285.7 651.4,285.3 652.5,284.9 653.7,285.1 654.8,284.8 656.0,285.2 657.1,285.5 658.3,285.7 659.4,285.7 660.6,285.5 661.7,285.8 662.9,285.7 664.0,286.1 665.2,286.0 666.3,286.1 667.5,286.3 668.6,285.9 669.8,286.1 670.9,285.6 672.1,285.5 673.2,285.7 674.4,285.7 675.5,285.3 676.7,285.3 677.8,285.0" fill="none" stroke="#5e22bb" stroke-width="1.25" stroke-linejoin="round"/>
<polyline points="495.0,281.7 496.1,281.8 497.3,282.1 498.4,282.4 499.6,282.2 500.7,282.0 501.9,281.9 503.0,281.7 504.2,281.9 505.3,281.6 506.5,281.6 507.6,281.5 508.8,281.2 509.9,281.4 511.1,280.9 512.2,281.2 513.4,281.7 514.5,281.5 515.7,282.0 516.8,281.8 518.0,282.0 519.1,281.9 520.3,282.1 521.4,282.1 522.6,282.2 523.7,282.4 524.9,282.1 526.0,282.1 527.2,281.9 528.3,281.8 529.5,281.5 530.6,281.1 531.8,281.2 532.9,281.5 534.1,281.8 535.2,282.1 536.4,282.9 537.5,282.3 538.7,282.0 539.8,281.6 541.0,281.5 542.1,281.6 543.3,281.9 544.4,281.5 545.6,281.4 546.7,281.6 547.9,281.7 549.0,281.5 550.2,281.3 551.3,280.9 552.5,280.3 553.6,280.0 554.8,279.8 555.9,279.7 557.1,280.2 558.2,279.8 559.4,278.8 560.5,278.5 561.7,277.7 562.8,277.1 564.0,276.3 565.1,275.4 566.3,274.8 567.4,274.2 568.6,273.7 569.7,273.0 570.9,272.4 572.0,272.6 573.2,272.6 574.3,273.2 575.5,273.5 576.6,273.8 577.8,274.2 578.9,275.2 580.1,276.4 581.2,277.1 582.4,278.3 583.5,279.0 584.7,279.6 585.8,280.3 587.0,280.4 588.1,281.0 589.3,280.8 590.4,281.1 591.6,280.9 592.7,281.1 593.9,280.7 595.0,280.8 596.2,280.6 597.3,280.9 598.5,281.0 599.6,281.0 600.8,281.6 601.9,281.7 603.1,282.4 604.2,282.0 605.4,281.6 606.5,282.2 607.7,281.9 608.8,281.6 610.0,281.7 611.1,281.4 612.3,281.5 613.4,281.1 614.6,281.3 615.7,281.0 616.9,281.2 618.0,281.7 619.2,282.4 620.3,282.0 621.5,281.6 622.6,280.9 623.8,280.1 624.9,280.5 626.1,281.0 627.2,281.6 628.4,282.0 629.5,282.1 630.7,282.6 631.8,282.7 633.0,282.8 634.1,282.2 635.3,282.1 636.4,281.5 637.6,281.6 638.7,281.8 639.9,282.0 641.0,281.6 642.2,281.5 643.3,281.4 644.5,281.2 645.6,281.4 646.8,281.9 647.9,282.2 649.1,282.7 650.2,282.1 651.4,281.4 652.5,280.8 653.7,281.3 654.8,281.7 656.0,281.8 657.1,282.1 658.3,281.9 659.4,281.7 660.6,282.0 661.7,281.8 662.9,281.8 664.0,281.2 665.2,281.3 666.3,281.4 667.5,281.9 668.6,282.0 669.8,282.1 670.9,281.8 672.1,281.8 673.2,281.2 674.4,281.0 675.5,281.1 676.7,281.2 677.8,281.7" fill="none" stroke="#6422bc" stroke-width="1.25" stroke-linejoin="round"/>
<polyline points="495.0,277.0 496.1,277.1 497.3,277.5 498.4,277.7 499.6,277.2 500.7,278.2 501.9,278.0 503.0,278.4 504.2,278.2 505.3,278.4 506.5,278.5 507.6,278.5 508.8,278.4 509.9,278.2 511.1,277.7 512.2,277.8 513.4,278.1 514.5,278.2 515.7,278.2 516.8,278.2 518.0,278.2 519.1,278.0 520.3,277.9 521.4,278.5 522.6,278.1 523.7,278.2 524.9,278.0 526.0,278.2 527.2,278.1 528.3,277.6 529.5,277.9 530.6,277.9 531.8,278.5 532.9,278.3 534.1,277.7 535.2,277.8 536.4,277.3 537.5,277.3 538.7,277.4 539.8,277.2 541.0,277.1 542.1,276.7 543.3,275.9 544.4,275.0 545.6,275.3 546.7,274.8 547.9,274.6 549.0,274.4 550.2,273.7 551.3,272.8 552.5,271.7 553.6,270.9 554.8,269.7 555.9,269.1 557.1,268.3 558.2,267.8 559.4,267.3 560.5,266.3 561.7,266.7 562.8,264.9 564.0,264.2 565.1,263.4 566.3,262.8 567.4,262.4 568.6,261.7 569.7,261.9 570.9,261.9 572.0,261.4 573.2,261.3 574.3,261.4 575.5,262.8 576.6,263.7 577.8,264.4 578.9,265.2 580.1,265.7 581.2,266.1 582.4,266.9 583.5,267.6 584.7,268.3 585.8,269.1 587.0,269.7 588.1,270.6 589.3,271.7 590.4,272.3 591.6,273.0 592.7,274.1 593.9,274.5 595.0,275.0 596.2,275.3 597.3,275.1 598.5,275.5 599.6,275.8 600.8,276.2 601.9,276.7 603.1,276.9 604.2,277.0 605.4,277.7 606.5,278.0 607.7,278.4 608.8,278.2 610.0,278.0 611.1,278.0 612.3,278.1 613.4,278.0 614.6,277.8 615.7,277.7 616.9,277.5 618.0,277.5 619.2,277.5 620.3,277.5 621.5,277.8 622.6,277.7 623.8,277.8 624.9,277.5 626.1,277.4 627.2,277.4 628.4,277.1 629.5,276.5 630.7,276.2 631.8,276.4 633.0,276.6 634.1,276.6 635.3,277.4 636.4,277.6 637.6,277.7 638.7,277.5 639.9,277.5 641.0,277.6 642.2,277.8 643.3,278.4 644.5,278.7 645.6,278.8 646.8,278.3 647.9,277.9 649.1,278.1 650.2,278.0 651.4,277.9 652.5,277.7 653.7,277.2 654.8,277.3 656.0,277.3 657.1,277.4 658.3,277.2 659.4,277.9 660.6,278.2 661.7,278.0 662.9,278.0 664.0,278.0 665.2,277.6 666.3,277.8 667.5,277.8 668.6,277.7 669.8,277.8 670.9,277.7 672.1,278.1 673.2,277.9 674.4,277.9 675.5,278.2 676.7,277.9 677.8,278.2" fill="none" stroke="#6d21bc" stroke-width="1.25" stroke-linejoin="round"/>
<polyline points="495.0,274.4 496.1,274.1 497.3,274.5 498.4,274.4 499.6,274.3 500.7,274.1 501.9,274.2 503.0,274.1 504.2,274.0 505.3,274.2 506.5,274.5 507.6,274.4 508.8,274.8 509.9,274.2 511.1,274.4 512.2,274.4 513.4,273.8 514.5,273.3 515.7,272.9 516.8,273.1 518.0,273.5 519.1,273.3 520.3,273.5 521.4,273.7 522.6,274.3 523.7,274.6 524.9,274.4 526.0,274.4 527.2,274.3 528.3,274.3 529.5,273.7 530.6,273.5 531.8,273.3 532.9,272.7 534.1,272.7 535.2,273.2 536.4,273.2 537.5,273.3 538.7,273.5 539.8,273.6 541.0,273.9 542.1,273.6 543.3,273.6 544.4,273.0 545.6,273.1 546.7,273.5 547.9,273.5 549.0,273.9 550.2,273.5 551.3,273.2 552.5,273.1 553.6,272.7 554.8,272.2 555.9,271.9 557.1,271.5 558.2,270.7 559.4,269.7 560.5,268.7 561.7,267.5 562.8,266.9 564.0,266.0 565.1,264.8 566.3,264.3 567.4,263.5 568.6,262.6 569.7,262.5 570.9,262.0 572.0,261.6 573.2,261.8 574.3,262.2 575.5,263.5 576.6,264.7 577.8,266.3 578.9,267.3 580.1,268.5 581.2,269.1 582.4,270.3 583.5,271.2 584.7,271.8 585.8,272.2 587.0,272.7 588.1,272.7 589.3,272.9 590.4,273.1 591.6,273.1 592.7,273.3 593.9,272.9 595.0,273.2 596.2,272.8 597.3,273.0 598.5,273.3 599.6,273.7 600.8,273.6 601.9,273.6 603.1,274.4 604.2,274.3 605.4,274.2 606.5,274.2 607.7,274.3 608.8,274.5 610.0,274.7 611.1,274.3 612.3,275.0 613.4,274.5 614.6,274.5 615.7,274.6 616.9,274.5 618.0,274.9 619.2,274.7 620.3,274.3 621.5,274.1 622.6,273.9 623.8,273.7 624.9,273.8 626.1,273.4 627.2,273.7 628.4,273.4 629.5,273.6 630.7,274.0 631.8,273.7 633.0,274.0 634.1,274.3 635.3,274.3 636.4,274.3 637.6,274.3 638.7,274.1 639.9,274.1 641.0,273.7 642.2,273.4 643.3,273.7 644.5,273.1 645.6,273.2 646.8,273.8 647.9,273.9 649.1,273.6 650.2,273.5 651.4,273.4 652.5,273.1 653.7,273.5 654.8,273.7 656.0,273.9 657.1,274.3 658.3,274.1 659.4,274.1 660.6,273.9 661.7,273.2 662.9,273.8 664.0,273.6 665.2,273.7 666.3,274.2 667.5,274.0 668.6,274.1 669.8,274.4 670.9,274.1 672.1,274.0 673.2,274.2 674.4,274.5 675.5,274.6 676.7,274.4 677.8,274.7" fill="none" stroke="#7721bc" stroke-width="1.25" stroke-linejoin="round"/>
<polyline points="495.0,270.1 496.1,270.5 497.3,270.9 498.4,271.0 499.6,271.1 500.7,271.0 501.9,270.7 503.0,270.6 504.2,270.7 505.3,270.7 506.5,270.4 507.6,270.6 508.8,270.3 509.9,270.9 511.1,270.7 512.2,270.7 513.4,270.2 514.5,270.2 515.7,270.0 516.8,270.2 518.0,269.9 519.1,270.4 520.3,270.3 521.4,270.2 522.6,270.4 523.7,270.3 524.9,270.1 526.0,269.8 527.2,269.8 528.3,269.5 529.5,269.6 530.6,269.6 531.8,269.8 532.9,270.1 534.1,270.3 535.2,270.2 536.4,270.5 537.5,270.0 538.7,269.6 539.8,269.6 541.0,269.2 542.1,269.7 543.3,270.1 544.4,270.1 545.6,270.1 546.7,270.5 547.9,270.0 549.0,269.9 550.2,269.9 551.3,269.6 552.5,269.4 553.6,269.0 554.8,267.8 555.9,267.7 557.1,266.3 558.2,265.6 559.4,265.1 560.5,264.1 561.7,262.8 562.8,262.1 564.0,260.8 565.1,259.8 566.3,258.5 567.4,257.5 568.6,256.8 569.7,256.2 570.9,255.9 572.0,256.0 573.2,256.1 574.3,256.8 575.5,258.1 576.6,259.8 577.8,260.9 578.9,262.4 580.1,263.8 581.2,265.1 582.4,266.3 583.5,266.9 584.7,267.4 585.8,267.6 587.0,268.1 588.1,268.8 589.3,269.2 590.4,269.5 591.6,269.9 592.7,270.2 593.9,270.9 595.0,271.1 596.2,270.4 597.3,270.4 598.5,270.0 599.6,270.1 600.8,269.6 601.9,269.6 603.1,270.0 604.2,269.4 605.4,269.5 606.5,269.3 607.7,269.3 608.8,269.2 610.0,269.6 611.1,269.8 612.3,270.0 613.4,270.4 614.6,270.5 615.7,271.1 616.9,270.7 618.0,270.5 619.2,269.8 620.3,270.0 621.5,269.6 622.6,269.7 623.8,269.5 624.9,269.3 626.1,269.6 627.2,269.8 628.4,269.8 629.5,269.9 630.7,269.8 631.8,270.0 633.0,270.0 634.1,270.4 635.3,270.7 636.4,270.6 637.6,270.3 638.7,269.9 639.9,269.9 641.0,269.8 642.2,269.7 643.3,270.0 644.5,270.5 645.6,270.2 646.8,270.5 647.9,270.0 649.1,269.7 650.2,270.0 651.4,270.5 652.5,270.2 653.7,270.5 654.8,270.5 656.0,270.7 657.1,270.6 658.3,270.4 659.4,270.6 660.6,270.5 661.7,270.6 662.9,270.3 664.0,270.5 665.2,269.9 666.3,270.1 667.5,269.9 668.6,270.1 669.8,270.1 670.9,270.2 672.1,270.5 673.2,270.3 674.4,270.1 675.5,270.2 676.7,269.7 677.8,269.4" fill="none" stroke="#8020bc" stroke-width="1.25" stroke-linejoin="round"/>
<polyline points="495.0,267.2 496.1,267.2 497.3,266.7 498.4,266.9 499.6,266.3 500.7,265.9 501.9,265.5 503.0,265.2 504.2,265.0 505.3,265.5 506.5,265.8 507.6,265.8 508.8,266.2 509.9,266.7 511.1,266.6 512.2,266.7 513.4,266.8 514.5,266.5 515.7,266.9 516.8,266.7 518.0,266.5 519.1,266.3 520.3,265.9 521.4,266.2 522.6,266.5 523.7,266.8 524.9,266.6 526.0,266.6 527.2,266.3 528.3,265.6 529.5,265.9 530.6,265.6 531.8,265.9 532.9,265.8 534.1,265.7 535.2,266.1 536.4,266.1 537.5,266.0 538.7,265.9 539.8,265.8 541.0,265.9 542.1,265.9 543.3,266.2 544.4,266.0 545.6,266.3 546.7,266.3 547.9,266.3 549.0,266.2 550.2,265.7 551.3,265.1 552.5,264.4 553.6,264.3 554.8,264.3 555.9,263.9 557.1,262.6 558.2,261.8 559.4,260.5 560.5,258.8 561.7,257.5 562.8,256.2 564.0,254.7 565.1,253.5 566.3,252.2 567.4,251.5 568.6,251.0 569.7,251.2 570.9,250.5 572.0,250.8 573.2,251.5 574.3,252.3 575.5,253.8 576.6,255.1 577.8,256.8 578.9,258.2 580.1,259.5 581.2,260.2 582.4,261.3 583.5,262.0 584.7,262.8 585.8,263.8 587.0,264.2 588.1,264.8 589.3,265.0 590.4,265.5 591.6,265.8 592.7,265.4 593.9,266.1 595.0,265.9 596.2,265.9 597.3,265.8 598.5,265.9 599.6,265.6 600.8,265.7 601.9,265.8 603.1,266.1 604.2,266.3 605.4,266.4 606.5,266.4 607.7,266.4 608.8,266.3 610.0,266.8 611.1,266.8 612.3,266.7 613.4,266.8 614.6,266.3 615.7,266.2 616.9,265.9 618.0,266.5 619.2,266.5 620.3,266.4 621.5,266.7 622.6,266.5 623.8,266.6 624.9,266.8 626.1,266.3 627.2,266.0 628.4,265.7 629.5,265.7 630.7,265.5 631.8,265.8 633.0,265.7 634.1,266.4 635.3,266.7 636.4,267.1 637.6,266.6 638.7,266.7 639.9,267.3 641.0,267.2 642.2,266.6 643.3,266.5 644.5,266.4 645.6,266.2 646.8,266.7 647.9,266.2 649.1,266.3 650.2,265.7 651.4,266.3 652.5,265.8 653.7,266.0 654.8,265.5 656.0,265.6 657.1,265.6 658.3,265.8 659.4,266.4 660.6,266.7 661.7,266.6 662.9,266.0 664.0,266.0 665.2,265.8 666.3,265.9 667.5,266.3 668.6,266.6 669.8,266.6 670.9,266.5 672.1,266.5 673.2,265.8 674.4,266.0 675.5,266.3 676.7,266.1 677.8,266.4" fill="none" stroke="#8920b9" stroke-width="1.25" stroke-linejoin="round"/>
<polyline points="495.0,261.3 496.1,261.5 497.3,261.6 498.4,261.7 499.6,262.0 500.7,261.9 501.9,261.4 503.0,261.6 504.2,261.8 505.3,261.7 506.5,261.9 507.6,261.7 508.8,262.1 509.9,261.7 511.1,262.2 512.2,261.9 513.4,261.8 514.5,261.8 515.7,261.9 516.8,261.9 518.0,261.8 519.1,261.9 520.3,261.9 521.4,261.6 522.6,261.0 523.7,260.9 524.9,260.8 526.0,261.4 527.2,261.9 528.3,262.7 529.5,261.9 530.6,261.6 531.8,261.7 532.9,261.4 534.1,261.1 535.2,260.3 536.4,260.2 537.5,260.2 538.7,259.9 539.8,259.3 541.0,259.3 542.1,258.8 543.3,258.5 544.4,258.8 545.6,257.8 546.7,256.6 547.9,255.6 549.0,255.0 550.2,254.0 551.3,253.4 552.5,252.2 553.6,251.3 554.8,250.2 555.9,248.8 557.1,247.4 558.2,246.4 559.4,245.5 560.5,244.5 561.7,243.5 562.8,242.2 564.0,241.1 565.1,239.8 566.3,239.5 567.4,239.2 568.6,238.7 569.7,238.7 570.9,238.9 572.0,239.0 573.2,239.4 574.3,239.9 575.5,240.5 576.6,241.2 577.8,242.5 578.9,243.9 580.1,244.8 581.2,246.4 582.4,247.9 583.5,248.8 584.7,249.8 585.8,250.8 587.0,251.5 588.1,252.7 589.3,253.5 590.4,254.6 591.6,255.5 592.7,256.2 593.9,257.2 595.0,258.3 596.2,258.9 597.3,259.1 598.5,259.5 599.6,259.6 600.8,260.1 601.9,260.4 603.1,260.5 604.2,261.2 605.4,260.8 606.5,261.3 607.7,261.7 608.8,262.1 610.0,262.8 611.1,262.6 612.3,262.6 613.4,262.5 614.6,262.3 615.7,262.0 616.9,262.0 618.0,262.4 619.2,262.1 620.3,262.1 621.5,262.4 622.6,262.4 623.8,262.1 624.9,262.1 626.1,262.3 627.2,262.6 628.4,262.6 629.5,262.6 630.7,262.7 631.8,262.3 633.0,262.0 634.1,261.9 635.3,261.7 636.4,262.0 637.6,261.4 638.7,261.8 639.9,261.4 641.0,261.6 642.2,261.8 643.3,262.5 644.5,262.6 645.6,263.2 646.8,262.5 647.9,262.6 649.1,262.8 650.2,262.4 651.4,261.9 652.5,261.3 653.7,261.9 654.8,261.9 656.0,262.0 657.1,261.9 658.3,262.4 659.4,262.4 660.6,262.7 661.7,262.8 662.9,263.1 664.0,262.9 665.2,262.9 666.3,262.9 667.5,262.4 668.6,262.0 669.8,261.7 670.9,262.1 672.1,261.9 673.2,262.3 674.4,262.7 675.5,262.6 676.7,262.6 677.8,262.7" fill="none" stroke="#9320b7" stroke-width="1.25" stroke-linejoin="round"/>
<polyline points="495.0,258.3 496.1,258.3 497.3,258.2 498.4,258.2 499.6,257.5 500.7,257.6 501.9,258.3 503.0,257.7 504.2,257.6 505.3,257.8 506.5,257.4 507.6,258.3 508.8,257.9 509.9,257.6 511.1,258.0 512.2,257.8 513.4,258.0 514.5,258.6 515.7,258.9 516.8,258.4 518.0,258.1 519.1,257.5 520.3,257.4 521.4,258.3 522.6,258.8 523.7,259.1 524.9,259.0 526.0,258.5 527.2,258.2 528.3,257.7 529.5,258.3 530.6,258.0 531.8,258.3 532.9,258.3 534.1,258.1 535.2,258.8 536.4,258.4 537.5,258.3 538.7,258.3 539.8,258.0 541.0,258.1 542.1,258.0 543.3,258.3 544.4,258.2 545.6,257.7 546.7,257.7 547.9,257.2 549.0,256.4 550.2,256.2 551.3,255.7 552.5,255.3 553.6,254.2 554.8,254.1 555.9,253.3 557.1,252.7 558.2,251.2 559.4,249.6 560.5,247.9 561.7,245.8 562.8,244.1 564.0,243.0 565.1,241.5 566.3,240.5 567.4,239.7 568.6,239.2 569.7,239.5 570.9,239.4 572.0,240.0 573.2,241.1 574.3,242.4 575.5,243.8 576.6,245.5 577.8,246.9 578.9,248.5 580.1,250.1 581.2,251.5 582.4,252.4 583.5,253.8 584.7,254.9 585.8,255.8 587.0,256.1 588.1,256.7 589.3,257.0 590.4,257.3 591.6,257.3 592.7,257.2 593.9,257.2 595.0,257.1 596.2,257.3 597.3,257.8 598.5,258.2 599.6,258.3 600.8,258.0 601.9,257.8 603.1,257.8 604.2,257.6 605.4,257.9 606.5,258.3 607.7,258.3 608.8,258.0 610.0,258.3 611.1,258.0 612.3,258.0 613.4,258.8 614.6,258.4 615.7,258.8 616.9,258.7 618.0,258.8 619.2,258.9 620.3,258.6 621.5,258.6 622.6,258.5 623.8,258.2 624.9,258.6 626.1,258.4 627.2,258.3 628.4,258.2 629.5,258.4 630.7,258.6 631.8,258.5 633.0,259.0 634.1,258.4 635.3,258.7 636.4,259.1 637.6,258.8 638.7,259.1 639.9,258.9 641.0,259.0 642.2,258.9 643.3,258.9 644.5,258.7 645.6,258.8 646.8,258.7 647.9,258.8 649.1,258.8 650.2,258.8 651.4,258.8 652.5,259.0 653.7,259.1 654.8,258.1 656.0,258.0 657.1,257.4 658.3,258.0 659.4,258.3 660.6,258.4 661.7,258.7 662.9,258.0 664.0,258.3 665.2,258.1 666.3,257.9 667.5,258.8 668.6,258.9 669.8,259.2 670.9,258.6 672.1,258.7 673.2,258.4 674.4,258.2 675.5,258.1 676.7,258.5 677.8,258.7" fill="none" stroke="#9c20b4" stroke-width="1.25" stroke-linejoin="round"/>
<polyline points="495.0,254.8 496.1,254.9 497.3,254.9 498.4,255.0 499.6,254.9 500.7,254.8 501.9,254.7 503.0,254.4 504.2,254.6 505.3,254.7 506.5,254.7 507.6,254.5 508.8,254.8 509.9,254.9 511.1,254.5 512.2,254.5 513.4,254.5 514.5,254.5 515.7,254.6 516.8,254.8 518.0,255.5 519.1,255.6 520.3,255.9 521.4,255.5 522.6,255.0 523.7,255.0 524.9,254.6 526.0,254.5 527.2,254.2 528.3,254.3 529.5,254.4 530.6,254.5 531.8,254.4 532.9,254.8 534.1,254.5 535.2,254.1 536.4,253.8 537.5,253.9 538.7,254.0 539.8,254.0 541.0,254.3 542.1,254.4 543.3,254.2 544.4,254.1 545.6,254.4 546.7,253.8 547.9,253.2 549.0,252.7 550.2,252.0 551.3,251.8 552.5,251.4 553.6,250.9 554.8,249.3 555.9,248.4 557.1,247.5 558.2,245.9 559.4,244.5 560.5,243.0 561.7,241.1 562.8,239.1 564.0,237.4 565.1,235.7 566.3,234.3 567.4,234.2 568.6,233.5 569.7,234.2 570.9,235.3 572.0,235.6 573.2,237.0 574.3,238.3 575.5,240.0 576.6,241.7 577.8,243.4 578.9,245.1 580.1,246.7 581.2,247.7 582.4,248.9 583.5,250.1 584.7,251.8 585.8,252.9 587.0,253.8 588.1,253.8 589.3,254.0 590.4,254.4 591.6,254.4 592.7,254.3 593.9,254.2 595.0,254.2 596.2,254.4 597.3,254.4 598.5,254.2 599.6,254.3 600.8,254.4 601.9,254.2 603.1,254.6 604.2,254.3 605.4,254.2 606.5,253.7 607.7,254.0 608.8,254.5 610.0,254.9 611.1,255.2 612.3,255.4 613.4,255.1 614.6,254.8 615.7,254.2 616.9,254.6 618.0,254.0 619.2,253.9 620.3,253.7 621.5,253.9 622.6,254.2 623.8,254.2 624.9,254.1 626.1,253.6 627.2,253.7 628.4,253.0 629.5,253.7 630.7,254.5 631.8,254.8 633.0,254.9 634.1,254.7 635.3,255.2 636.4,254.7 637.6,255.3 638.7,255.4 639.9,255.7 641.0,255.9 642.2,255.5 643.3,255.6 644.5,255.7 645.6,255.1 646.8,255.1 647.9,254.4 649.1,254.3 650.2,254.2 651.4,254.6 652.5,254.7 653.7,254.9 654.8,254.8 656.0,255.3 657.1,255.1 658.3,254.7 659.4,255.2 660.6,255.0 661.7,254.8 662.9,255.3 664.0,254.6 665.2,254.2 666.3,254.4 667.5,254.8 668.6,254.9 669.8,255.3 670.9,255.2 672.1,254.9 673.2,255.0 674.4,255.1 675.5,255.1 676.7,255.2 677.8,255.6" fill="none" stroke="#a524af" stroke-width="1.25" stroke-linejoin="round"/>
<polyline points="495.0,251.1 496.1,250.5 497.3,250.0 498.4,249.8 499.6,249.9 500.7,250.2 501.9,250.5 503.0,250.3 504.2,250.3 505.3,250.1 506.5,250.4 507.6,250.4 508.8,250.0 509.9,250.7 511.1,250.7 512.2,250.9 513.4,250.2 514.5,250.3 515.7,250.2 516.8,250.2 518.0,250.6 519.1,250.9 520.3,251.2 521.4,250.9 522.6,250.7 523.7,250.0 524.9,249.7 526.0,250.0 527.2,249.9 528.3,250.0 529.5,250.2 530.6,250.1 531.8,250.5 532.9,250.1 534.1,249.9 535.2,249.6 536.4,249.0 537.5,249.2 538.7,249.0 539.8,249.3 541.0,249.6 542.1,249.5 543.3,249.7 544.4,250.4 545.6,249.7 546.7,249.0 547.9,248.4 549.0,248.2 550.2,247.0 551.3,246.9 552.5,246.4 553.6,245.5 554.8,244.9 555.9,243.6 557.1,242.6 558.2,240.9 559.4,239.0 560.5,237.0 561.7,235.0 562.8,233.2 564.0,231.1 565.1,229.5 566.3,228.4 567.4,227.7 568.6,227.4 569.7,227.8 570.9,228.6 572.0,230.1 573.2,231.4 574.3,233.3 575.5,236.0 576.6,237.7 577.8,239.5 578.9,241.2 580.1,243.0 581.2,244.0 582.4,245.5 583.5,246.8 584.7,248.2 585.8,248.9 587.0,249.8 588.1,249.4 589.3,249.8 590.4,249.9 591.6,249.9 592.7,249.5 593.9,249.9 595.0,249.9 596.2,249.9 597.3,249.9 598.5,250.1 599.6,250.1 600.8,250.4 601.9,250.4 603.1,250.5 604.2,250.3 605.4,249.7 606.5,249.8 607.7,250.1 608.8,249.6 610.0,249.9 611.1,249.8 612.3,250.1 613.4,250.7 614.6,251.2 615.7,251.4 616.9,250.9 618.0,250.5 619.2,249.6 620.3,250.0 621.5,250.0 622.6,250.1 623.8,250.2 624.9,250.3 626.1,250.9 627.2,250.9 628.4,250.9 629.5,251.3 630.7,251.2 631.8,251.4 633.0,251.4 634.1,250.7 635.3,250.4 636.4,250.5 637.6,250.2 638.7,250.9 639.9,251.5 641.0,251.6 642.2,251.4 643.3,250.6 644.5,250.6 645.6,250.7 646.8,251.0 647.9,251.2 649.1,251.3 650.2,251.4 651.4,251.3 652.5,250.8 653.7,251.0 654.8,250.6 656.0,250.4 657.1,250.1 658.3,250.9 659.4,251.0 660.6,250.9 661.7,251.0 662.9,250.8 664.0,251.1 665.2,251.0 666.3,250.9 667.5,250.7 668.6,250.2 669.8,250.1 670.9,250.9 672.1,251.0 673.2,251.8 674.4,251.8 675.5,251.0 676.7,251.0 677.8,250.5" fill="none" stroke="#af28a9" stroke-width="1.25" stroke-linejoin="round"/>
<polyline points="495.0,246.9 496.1,246.6 497.3,246.5 498.4,246.4 499.6,246.4 500.7,246.4 501.9,246.3 503.0,246.6 504.2,246.8 505.3,246.5 506.5,247.2 507.6,247.2 508.8,246.8 509.9,247.3 511.1,247.7 512.2,247.8 513.4,247.7 514.5,246.9 515.7,246.8 516.8,246.9 518.0,247.0 519.1,246.7 520.3,246.8 521.4,246.5 522.6,246.3 523.7,245.6 524.9,246.0 526.0,246.2 527.2,246.3 528.3,246.9 529.5,246.4 530.6,246.5 531.8,246.0 532.9,246.3 534.1,246.4 535.2,246.0 536.4,246.2 537.5,246.3 538.7,246.0 539.8,246.3 541.0,246.3 542.1,246.0 543.3,246.1 544.4,246.2 545.6,245.8 546.7,245.4 547.9,245.4 549.0,244.3 550.2,243.9 551.3,243.2 552.5,242.2 553.6,240.6 554.8,239.5 555.9,238.0 557.1,236.2 558.2,234.7 559.4,232.9 560.5,231.0 561.7,229.1 562.8,227.0 564.0,224.9 565.1,222.6 566.3,222.4 567.4,221.6 568.6,222.2 569.7,222.6 570.9,224.2 572.0,225.8 573.2,228.3 574.3,230.3 575.5,232.0 576.6,233.7 577.8,235.5 578.9,237.1 580.1,238.9 581.2,240.4 582.4,242.1 583.5,242.9 584.7,243.5 585.8,244.5 587.0,245.2 588.1,245.9 589.3,246.1 590.4,246.7 591.6,247.1 592.7,246.6 593.9,246.6 595.0,246.7 596.2,246.1 597.3,245.9 598.5,245.4 599.6,245.4 600.8,246.0 601.9,246.1 603.1,246.2 604.2,246.4 605.4,246.5 606.5,246.7 607.7,246.9 608.8,247.1 610.0,246.7 611.1,246.9 612.3,246.6 613.4,247.0 614.6,247.0 615.7,246.7 616.9,246.9 618.0,247.2 619.2,247.3 620.3,247.7 621.5,247.9 622.6,247.2 623.8,247.6 624.9,246.9 626.1,246.3 627.2,246.4 628.4,246.2 629.5,246.2 630.7,246.2 631.8,246.6 633.0,246.1 634.1,246.1 635.3,245.9 636.4,245.5 637.6,245.9 638.7,246.5 639.9,247.3 641.0,247.6 642.2,246.9 643.3,246.8 644.5,247.0 645.6,246.3 646.8,246.8 647.9,246.7 649.1,246.7 650.2,246.1 651.4,246.2 652.5,245.7 653.7,246.2 654.8,246.0 656.0,246.4 657.1,246.4 658.3,246.7 659.4,246.5 660.6,247.0 661.7,247.0 662.9,246.8 664.0,247.0 665.2,246.6 666.3,246.7 667.5,246.6 668.6,246.9 669.8,246.4 670.9,246.4 672.1,246.4 673.2,246.5 674.4,246.7 675.5,247.2 676.7,247.5 677.8,247.8" fill="none" stroke="#b82ca4" stroke-width="1.25" stroke-linejoin="round"/>
<polyline points="495.0,242.7 496.1,242.8 497.3,243.3 498.4,243.1 499.6,243.0 500.7,242.7 501.9,242.0 503.0,241.6 504.2,241.7 505.3,242.6 506.5,243.1 507.6,243.4 508.8,243.4 509.9,242.6 511.1,242.7 512.2,242.2 513.4,242.3 514.5,242.5 515.7,242.8 516.8,242.4 518.0,242.5 519.1,242.5 520.3,243.2 521.4,242.8 522.6,242.7 523.7,242.9 524.9,242.4 526.0,241.7 527.2,241.8 528.3,241.5 529.5,242.3 530.6,241.8 531.8,242.3 532.9,242.3 534.1,242.5 535.2,242.8 536.4,243.0 537.5,242.8 538.7,242.6 539.8,242.6 541.0,242.3 542.1,242.3 543.3,242.3 544.4,242.1 545.6,241.7 546.7,241.0 547.9,240.6 549.0,239.3 550.2,238.5 551.3,238.0 552.5,236.6 553.6,235.6 554.8,234.4 555.9,232.7 557.1,230.9 558.2,229.1 559.4,226.8 560.5,224.5 561.7,222.2 562.8,220.0 564.0,217.8 565.1,216.3 566.3,215.2 567.4,215.0 568.6,215.3 569.7,215.8 570.9,217.1 572.0,218.7 573.2,220.5 574.3,223.0 575.5,226.0 576.6,228.7 577.8,231.3 578.9,232.9 580.1,233.7 581.2,235.4 582.4,236.5 583.5,237.8 584.7,239.0 585.8,240.1 587.0,241.1 588.1,241.2 589.3,241.9 590.4,242.1 591.6,242.6 592.7,243.0 593.9,243.5 595.0,243.6 596.2,243.5 597.3,242.9 598.5,242.3 599.6,242.3 600.8,242.2 601.9,242.7 603.1,242.4 604.2,242.5 605.4,242.4 606.5,242.6 607.7,243.0 608.8,242.8 610.0,242.9 611.1,243.3 612.3,243.4 613.4,243.3 614.6,243.4 615.7,243.5 616.9,243.3 618.0,243.6 619.2,243.0 620.3,243.0 621.5,242.4 622.6,242.3 623.8,242.4 624.9,242.3 626.1,242.0 627.2,241.7 628.4,241.6 629.5,242.1 630.7,242.5 631.8,243.1 633.0,243.2 634.1,242.8 635.3,242.5 636.4,242.4 637.6,242.9 638.7,243.2 639.9,243.2 641.0,243.7 642.2,243.0 643.3,242.6 644.5,242.0 645.6,242.2 646.8,242.8 647.9,242.7 649.1,243.0 650.2,243.0 651.4,243.0 652.5,242.7 653.7,242.5 654.8,242.4 656.0,242.6 657.1,242.7 658.3,242.8 659.4,243.4 660.6,243.6 661.7,243.5 662.9,243.4 664.0,243.5 665.2,243.4 666.3,243.1 667.5,242.9 668.6,242.8 669.8,243.0 670.9,243.1 672.1,242.9 673.2,243.4 674.4,243.1 675.5,243.1 676.7,242.9 677.8,242.7" fill="none" stroke="#bf339c" stroke-width="1.25" stroke-linejoin="round"/>
<polyline points="495.0,239.8 496.1,239.9 497.3,239.8 498.4,239.5 499.6,239.1 500.7,238.8 501.9,238.7 503.0,238.5 504.2,238.0 505.3,238.4 506.5,238.4 507.6,238.4 508.8,238.6 509.9,239.5 511.1,239.5 512.2,239.2 513.4,239.2 514.5,239.4 515.7,239.2 516.8,238.8 518.0,238.5 519.1,238.1 520.3,237.8 521.4,237.6 522.6,237.8 523.7,237.1 524.9,237.7 526.0,238.5 527.2,238.6 528.3,238.9 529.5,239.7 530.6,239.7 531.8,239.6 532.9,239.5 534.1,239.3 535.2,239.0 536.4,238.8 537.5,238.4 538.7,238.4 539.8,237.9 541.0,237.5 542.1,237.5 543.3,237.6 544.4,237.2 545.6,236.3 546.7,236.1 547.9,234.9 549.0,233.5 550.2,232.9 551.3,232.3 552.5,231.4 553.6,229.8 554.8,228.6 555.9,226.7 557.1,225.1 558.2,222.5 559.4,219.9 560.5,217.8 561.7,215.3 562.8,212.8 564.0,210.2 565.1,208.8 566.3,207.8 567.4,208.4 568.6,209.1 569.7,211.0 570.9,212.3 572.0,214.2 573.2,216.5 574.3,218.4 575.5,221.0 576.6,224.0 577.8,225.7 578.9,227.9 580.1,229.8 581.2,231.4 582.4,232.3 583.5,233.7 584.7,234.4 585.8,235.4 587.0,236.3 588.1,236.5 589.3,236.6 590.4,236.9 591.6,237.2 592.7,237.7 593.9,237.9 595.0,238.1 596.2,238.6 597.3,238.4 598.5,239.0 599.6,239.1 600.8,238.8 601.9,238.7 603.1,237.8 604.2,238.3 605.4,238.3 606.5,238.6 607.7,238.5 608.8,238.5 610.0,238.7 611.1,238.6 612.3,238.9 613.4,239.1 614.6,239.3 615.7,239.2 616.9,239.4 618.0,239.5 619.2,239.6 620.3,239.0 621.5,238.5 622.6,238.0 623.8,237.9 624.9,238.1 626.1,238.4 627.2,238.8 628.4,239.3 629.5,239.0 630.7,239.4 631.8,239.4 633.0,239.2 634.1,239.2 635.3,238.9 636.4,239.2 637.6,238.8 638.7,238.9 639.9,238.7 641.0,238.6 642.2,239.1 643.3,239.3 644.5,238.7 645.6,238.8 646.8,238.8 647.9,238.5 649.1,238.0 650.2,238.8 651.4,238.7 652.5,239.1 653.7,239.0 654.8,239.6 656.0,239.9 657.1,239.8 658.3,239.9 659.4,239.5 660.6,239.3 661.7,239.2 662.9,239.5 664.0,239.6 665.2,240.1 666.3,239.8 667.5,239.6 668.6,240.0 669.8,239.8 670.9,239.9 672.1,239.7 673.2,239.9 674.4,239.7 675.5,239.3 676.7,239.4 677.8,239.2" fill="none" stroke="#c53994" stroke-width="1.25" stroke-linejoin="round"/>
<polyline points="495.0,235.1 496.1,235.1 497.3,235.9 498.4,235.4 499.6,235.4 500.7,234.9 501.9,234.6 503.0,234.1 504.2,234.4 505.3,234.9 506.5,234.8 507.6,235.3 508.8,235.0 509.9,235.0 511.1,234.5 512.2,234.7 513.4,234.5 514.5,234.4 515.7,234.5 516.8,234.7 518.0,234.8 519.1,235.0 520.3,235.3 521.4,234.8 522.6,235.0 523.7,234.9 524.9,234.6 526.0,234.4 527.2,234.5 528.3,234.4 529.5,234.5 530.6,234.7 531.8,234.9 532.9,234.7 534.1,234.7 535.2,234.6 536.4,234.6 537.5,234.1 538.7,234.2 539.8,234.4 541.0,234.3 542.1,234.2 543.3,234.0 544.4,233.7 545.6,233.1 546.7,232.4 547.9,231.1 549.0,230.4 550.2,228.8 551.3,228.1 552.5,226.4 553.6,224.4 554.8,222.9 555.9,220.7 557.1,218.6 558.2,216.2 559.4,213.6 560.5,211.0 561.7,208.7 562.8,206.2 564.0,204.2 565.1,202.7 566.3,201.6 567.4,201.9 568.6,202.2 569.7,202.9 570.9,204.9 572.0,207.0 573.2,209.0 574.3,211.8 575.5,214.7 576.6,217.7 577.8,220.1 578.9,222.4 580.1,224.3 581.2,226.2 582.4,227.3 583.5,229.2 584.7,230.5 585.8,231.3 587.0,232.3 588.1,233.0 589.3,233.5 590.4,233.6 591.6,233.6 592.7,234.1 593.9,234.3 595.0,234.8 596.2,234.4 597.3,234.3 598.5,234.1 599.6,234.6 600.8,235.0 601.9,235.2 603.1,235.4 604.2,235.3 605.4,235.4 606.5,234.7 607.7,234.8 608.8,235.0 610.0,235.1 611.1,235.4 612.3,235.2 613.4,235.0 614.6,235.1 615.7,234.9 616.9,234.9 618.0,235.1 619.2,235.0 620.3,235.3 621.5,235.3 622.6,235.3 623.8,235.6 624.9,235.3 626.1,235.4 627.2,235.4 628.4,235.6 629.5,235.6 630.7,235.8 631.8,236.1 633.0,235.8 634.1,235.1 635.3,234.7 636.4,234.6 637.6,234.8 638.7,234.8 639.9,235.0 641.0,235.2 642.2,235.6 643.3,236.2 644.5,236.4 645.6,235.7 646.8,235.6 647.9,235.2 649.1,235.0 650.2,235.2 651.4,235.2 652.5,235.0 653.7,235.2 654.8,235.0 656.0,235.3 657.1,235.0 658.3,235.2 659.4,234.9 660.6,235.0 661.7,235.1 662.9,234.8 664.0,235.0 665.2,235.3 666.3,235.4 667.5,235.7 668.6,235.7 669.8,235.7 670.9,235.8 672.1,235.7 673.2,235.4 674.4,235.7 675.5,235.5 676.7,235.4 677.8,235.4" fill="none" stroke="#cc408c" stroke-width="1.25" stroke-linejoin="round"/>
<polyline points="495.0,231.0 496.1,230.9 497.3,231.5 498.4,232.0 499.6,232.4 500.7,231.8 501.9,230.9 503.0,230.5 504.2,230.9 505.3,230.6 506.5,231.1 507.6,231.2 508.8,231.5 509.9,231.6 511.1,231.0 512.2,231.5 513.4,231.4 514.5,231.1 515.7,231.1 516.8,230.9 518.0,231.0 519.1,231.1 520.3,231.2 521.4,231.0 522.6,230.6 523.7,230.3 524.9,230.6 526.0,229.9 527.2,230.2 528.3,230.6 529.5,230.9 530.6,230.4 531.8,230.6 532.9,230.4 534.1,230.7 535.2,230.9 536.4,230.8 537.5,230.7 538.7,230.2 539.8,229.8 541.0,229.4 542.1,229.1 543.3,229.3 544.4,229.2 545.6,228.4 546.7,228.1 547.9,227.1 549.0,226.0 550.2,224.8 551.3,223.2 552.5,221.4 553.6,219.7 554.8,217.4 555.9,214.6 557.1,212.0 558.2,209.2 559.4,206.6 560.5,204.1 561.7,201.1 562.8,198.7 564.0,196.5 565.1,195.0 566.3,194.5 567.4,194.5 568.6,195.4 569.7,197.5 570.9,199.3 572.0,202.3 573.2,204.6 574.3,207.4 575.5,210.2 576.6,212.8 577.8,215.1 578.9,217.7 580.1,220.1 581.2,222.0 582.4,224.1 583.5,225.2 584.7,225.8 585.8,227.3 587.0,227.5 588.1,228.4 589.3,229.1 590.4,229.1 591.6,229.2 592.7,229.7 593.9,230.3 595.0,230.8 596.2,230.3 597.3,230.6 598.5,230.3 599.6,230.5 600.8,231.0 601.9,231.8 603.1,231.7 604.2,231.3 605.4,231.2 606.5,230.7 607.7,230.1 608.8,230.2 610.0,230.2 611.1,230.6 612.3,230.4 613.4,230.8 614.6,230.8 615.7,230.8 616.9,230.9 618.0,231.1 619.2,231.3 620.3,231.3 621.5,231.5 622.6,231.8 623.8,231.8 624.9,231.8 626.1,231.5 627.2,231.2 628.4,231.2 629.5,231.4 630.7,231.4 631.8,230.7 633.0,231.3 634.1,231.5 635.3,231.9 636.4,232.2 637.6,232.1 638.7,231.9 639.9,231.8 641.0,231.8 642.2,231.3 643.3,231.1 644.5,231.0 645.6,231.0 646.8,231.3 647.9,231.0 649.1,231.2 650.2,231.0 651.4,230.9 652.5,230.6 653.7,230.8 654.8,230.9 656.0,231.2 657.1,231.5 658.3,231.4 659.4,232.0 660.6,232.4 661.7,232.1 662.9,231.6 664.0,231.6 665.2,230.8 666.3,230.9 667.5,230.2 668.6,230.6 669.8,230.5 670.9,230.9 672.1,231.3 673.2,231.3 674.4,231.2 675.5,230.3 676.7,230.6 677.8,230.3" fill="none" stroke="#d14784" stroke-width="1.25" stroke-linejoin="round"/>
<polyline points="495.0,227.2 496.1,227.4 497.3,227.3 498.4,227.4 499.6,227.1 500.7,227.3 501.9,227.3 503.0,227.2 504.2,227.3 505.3,227.5 506.5,227.8 507.6,227.6 508.8,227.7 509.9,227.7 511.1,227.7 512.2,227.7 513.4,228.0 514.5,227.8 515.7,228.1 516.8,227.8 518.0,227.6 519.1,227.0 520.3,226.4 521.4,226.4 522.6,226.0 523.7,226.2 524.9,225.9 526.0,226.5 527.2,226.9 528.3,227.1 529.5,226.7 530.6,227.0 531.8,227.0 532.9,226.8 534.1,226.8 535.2,226.2 536.4,225.5 537.5,225.4 538.7,225.6 539.8,225.4 541.0,224.8 542.1,224.2 543.3,223.9 544.4,223.2 545.6,222.6 546.7,221.3 547.9,220.4 549.0,219.1 550.2,217.1 551.3,215.6 552.5,214.0 553.6,211.3 554.8,208.6 555.9,205.8 557.1,202.4 558.2,199.6 559.4,196.8 560.5,194.6 561.7,192.0 562.8,189.7 564.0,187.5 565.1,186.9 566.3,186.4 567.4,186.5 568.6,187.9 569.7,189.0 570.9,191.4 572.0,193.5 573.2,196.9 574.3,198.8 575.5,202.1 576.6,205.2 577.8,208.3 578.9,210.8 580.1,213.0 581.2,214.8 582.4,217.0 583.5,218.1 584.7,219.7 585.8,221.1 587.0,221.8 588.1,223.0 589.3,224.3 590.4,225.1 591.6,225.4 592.7,226.3 593.9,227.2 595.0,227.1 596.2,226.9 597.3,226.3 598.5,225.7 599.6,226.1 600.8,226.1 601.9,226.4 603.1,226.3 604.2,226.6 605.4,226.9 606.5,227.2 607.7,227.1 608.8,226.8 610.0,227.0 611.1,226.3 612.3,226.6 613.4,226.8 614.6,227.0 615.7,227.1 616.9,227.0 618.0,227.2 619.2,226.9 620.3,226.8 621.5,227.2 622.6,226.7 623.8,227.2 624.9,227.2 626.1,227.1 627.2,227.5 628.4,227.6 629.5,227.7 630.7,227.5 631.8,227.1 633.0,226.8 634.1,226.5 635.3,226.7 636.4,226.4 637.6,226.9 638.7,227.2 639.9,227.7 641.0,227.9 642.2,227.6 643.3,227.6 644.5,227.3 645.6,227.5 646.8,227.4 647.9,227.4 649.1,227.3 650.2,226.9 651.4,226.7 652.5,227.1 653.7,227.3 654.8,227.2 656.0,227.8 657.1,227.7 658.3,227.5 659.4,227.4 660.6,226.9 661.7,226.8 662.9,227.2 664.0,227.1 665.2,227.5 666.3,227.6 667.5,227.3 668.6,227.7 669.8,228.1 670.9,227.4 672.1,227.6 673.2,227.2 674.4,227.2 675.5,227.9 676.7,228.1 677.8,228.0" fill="none" stroke="#d74f7c" stroke-width="1.25" stroke-linejoin="round"/>
<polyline points="495.0,223.1 496.1,223.5 497.3,223.6 498.4,224.0 499.6,224.1 500.7,224.1 501.9,224.0 503.0,223.8 504.2,223.8 505.3,223.7 506.5,223.2 507.6,223.1 508.8,223.1 509.9,223.5 511.1,223.5 512.2,223.6 513.4,223.2 514.5,223.3 515.7,222.9 516.8,222.8 518.0,222.9 519.1,222.6 520.3,222.6 521.4,222.9 522.6,222.8 523.7,223.2 524.9,223.3 526.0,222.5 527.2,222.3 528.3,221.9 529.5,222.0 530.6,222.4 531.8,222.4 532.9,222.3 534.1,222.0 535.2,221.5 536.4,221.0 537.5,221.2 538.7,220.7 539.8,220.5 541.0,219.8 542.1,219.3 543.3,218.4 544.4,217.7 545.6,216.7 546.7,215.8 547.9,214.7 549.0,213.1 550.2,210.6 551.3,209.0 552.5,206.7 553.6,204.2 554.8,201.2 555.9,197.9 557.1,194.6 558.2,191.3 559.4,187.8 560.5,185.0 561.7,182.0 562.8,179.8 564.0,178.5 565.1,177.8 566.3,177.1 567.4,177.4 568.6,178.4 569.7,179.9 570.9,182.4 572.0,185.1 573.2,188.4 574.3,191.6 575.5,195.1 576.6,198.1 577.8,201.5 578.9,204.2 580.1,207.0 581.2,209.8 582.4,212.0 583.5,213.8 584.7,215.5 585.8,216.7 587.0,217.6 588.1,218.5 589.3,219.2 590.4,220.0 591.6,220.5 592.7,221.0 593.9,221.5 595.0,221.7 596.2,222.6 597.3,222.4 598.5,222.0 599.6,222.4 600.8,222.2 601.9,221.8 603.1,222.1 604.2,222.4 605.4,222.7 606.5,223.1 607.7,222.8 608.8,222.9 610.0,222.9 611.1,222.8 612.3,222.8 613.4,222.9 614.6,223.3 615.7,222.9 616.9,223.0 618.0,223.6 619.2,223.4 620.3,223.5 621.5,223.3 622.6,223.1 623.8,223.0 624.9,223.0 626.1,222.7 627.2,222.5 628.4,222.5 629.5,222.9 630.7,223.1 631.8,223.5 633.0,223.1 634.1,223.2 635.3,223.4 636.4,223.3 637.6,222.8 638.7,223.4 639.9,223.3 641.0,223.2 642.2,223.2 643.3,223.1 644.5,223.4 645.6,223.3 646.8,223.1 647.9,223.1 649.1,223.0 650.2,222.6 651.4,222.5 652.5,222.5 653.7,223.0 654.8,223.2 656.0,223.8 657.1,224.0 658.3,223.9 659.4,223.7 660.6,223.9 661.7,224.4 662.9,223.8 664.0,223.7 665.2,223.8 666.3,224.0 667.5,223.7 668.6,223.4 669.8,223.5 670.9,223.9 672.1,224.3 673.2,224.8 674.4,225.0 675.5,224.6 676.7,224.3 677.8,224.0" fill="none" stroke="#dc5674" stroke-width="1.25" stroke-linejoin="round"/>
<polyline points="495.0,218.9 496.1,219.3 497.3,219.6 498.4,219.5 499.6,219.8 500.7,219.5 501.9,219.8 503.0,220.1 504.2,219.8 505.3,220.0 506.5,219.8 507.6,219.8 508.8,219.5 509.9,219.1 511.1,219.2 512.2,219.3 513.4,219.2 514.5,219.4 515.7,219.3 516.8,219.2 518.0,219.3 519.1,218.9 520.3,218.6 521.4,218.8 522.6,218.6 523.7,218.5 524.9,218.6 526.0,217.9 527.2,218.4 528.3,218.5 529.5,218.1 530.6,217.6 531.8,218.1 532.9,218.1 534.1,217.5 535.2,217.0 536.4,216.7 537.5,216.6 538.7,216.4 539.8,216.2 541.0,215.5 542.1,214.1 543.3,213.4 544.4,212.2 545.6,211.2 546.7,209.2 547.9,207.4 549.0,205.6 550.2,203.6 551.3,200.9 552.5,198.8 553.6,195.7 554.8,192.7 555.9,189.3 557.1,185.8 558.2,182.6 559.4,179.5 560.5,176.1 561.7,173.4 562.8,171.1 564.0,169.1 565.1,167.8 566.3,167.9 567.4,168.8 568.6,170.6 569.7,172.5 570.9,175.6 572.0,178.7 573.2,181.6 574.3,184.8 575.5,187.9 576.6,190.9 577.8,194.2 578.9,197.2 580.1,200.0 581.2,202.8 582.4,205.0 583.5,207.0 584.7,208.7 585.8,210.2 587.0,211.3 588.1,212.6 589.3,213.4 590.4,213.8 591.6,214.6 592.7,215.6 593.9,216.0 595.0,216.7 596.2,216.9 597.3,217.6 598.5,218.0 599.6,218.0 600.8,217.8 601.9,217.7 603.1,217.5 604.2,217.8 605.4,218.2 606.5,218.6 607.7,218.7 608.8,218.6 610.0,218.6 611.1,218.6 612.3,218.9 613.4,219.3 614.6,220.1 615.7,220.0 616.9,219.7 618.0,219.6 619.2,219.5 620.3,219.6 621.5,219.7 622.6,219.4 623.8,220.0 624.9,219.6 626.1,219.9 627.2,219.9 628.4,219.7 629.5,219.4 630.7,219.7 631.8,219.3 633.0,218.8 634.1,218.9 635.3,219.5 636.4,219.2 637.6,219.3 638.7,219.4 639.9,219.0 641.0,219.1 642.2,219.0 643.3,218.8 644.5,219.1 645.6,219.1 646.8,219.6 647.9,219.5 649.1,219.9 650.2,219.7 651.4,219.6 652.5,219.8 653.7,219.6 654.8,219.7 656.0,220.1 657.1,220.0 658.3,219.6 659.4,220.0 660.6,219.4 661.7,219.6 662.9,219.6 664.0,219.4 665.2,219.3 666.3,219.5 667.5,219.5 668.6,219.5 669.8,219.9 670.9,219.5 672.1,219.4 673.2,219.7 674.4,219.2 675.5,219.1 676.7,219.3 677.8,219.3" fill="none" stroke="#e15d6c" stroke-width="1.25" stroke-linejoin="round"/>
<polyline points="495.0,215.7 496.1,215.7 497.3,216.2 498.4,216.6 499.6,216.5 500.7,216.0 501.9,215.7 503.0,215.1 504.2,215.1 505.3,215.6 506.5,215.7 507.6,216.1 508.8,216.0 509.9,216.0 511.1,215.9 512.2,215.6 513.4,215.8 514.5,215.5 515.7,215.8 516.8,215.4 518.0,215.4 519.1,214.7 520.3,214.6 521.4,214.4 522.6,214.5 523.7,214.4 524.9,214.0 526.0,214.4 527.2,214.0 528.3,213.5 529.5,213.5 530.6,213.3 531.8,213.1 532.9,213.2 534.1,212.7 535.2,212.9 536.4,212.2 537.5,212.0 538.7,211.9 539.8,210.9 541.0,210.1 542.1,208.8 543.3,206.8 544.4,205.1 545.6,203.4 546.7,202.1 547.9,200.5 549.0,198.6 550.2,195.8 551.3,193.1 552.5,190.0 553.6,186.7 554.8,183.1 555.9,179.3 557.1,176.0 558.2,172.4 559.4,168.6 560.5,165.1 561.7,162.7 562.8,161.0 564.0,159.8 565.1,158.9 566.3,159.4 567.4,159.7 568.6,161.3 569.7,163.1 570.9,166.6 572.0,170.1 573.2,173.9 574.3,177.8 575.5,180.8 576.6,184.0 577.8,187.0 578.9,190.1 580.1,193.5 581.2,196.4 582.4,198.8 583.5,200.8 584.7,203.0 585.8,204.7 587.0,206.4 588.1,207.6 589.3,208.8 590.4,210.2 591.6,210.4 592.7,210.8 593.9,210.8 595.0,211.4 596.2,212.1 597.3,212.8 598.5,213.6 599.6,213.7 600.8,214.0 601.9,214.0 603.1,214.1 604.2,214.2 605.4,214.9 606.5,215.2 607.7,215.0 608.8,215.0 610.0,214.7 611.1,214.8 612.3,214.7 613.4,215.0 614.6,214.9 615.7,215.0 616.9,214.5 618.0,214.1 619.2,214.2 620.3,214.2 621.5,214.9 622.6,214.9 623.8,215.4 624.9,215.5 626.1,215.7 627.2,215.9 628.4,216.2 629.5,216.1 630.7,215.7 631.8,215.4 633.0,215.4 634.1,215.1 635.3,215.4 636.4,215.2 637.6,215.4 638.7,215.8 639.9,215.3 641.0,215.7 642.2,216.0 643.3,216.3 644.5,216.2 645.6,215.8 646.8,215.7 647.9,215.2 649.1,214.7 650.2,215.6 651.4,215.8 652.5,216.2 653.7,216.6 654.8,216.4 656.0,216.0 657.1,216.6 658.3,216.0 659.4,216.4 660.6,216.5 661.7,216.7 662.9,216.2 664.0,216.4 665.2,215.8 666.3,216.2 667.5,216.5 668.6,216.7 669.8,217.1 670.9,217.0 672.1,216.7 673.2,216.1 674.4,215.7 675.5,216.0 676.7,216.4 677.8,216.6" fill="none" stroke="#e76564" stroke-width="1.25" stroke-linejoin="round"/>
<polyline points="495.0,211.9 496.1,211.9 497.3,211.8 498.4,211.7 499.6,211.3 500.7,211.2 501.9,211.2 503.0,211.1 504.2,210.8 505.3,211.1 506.5,211.5 507.6,211.5 508.8,211.8 509.9,211.4 511.1,211.4 512.2,211.2 513.4,211.4 514.5,211.5 515.7,211.8 516.8,211.2 518.0,211.1 519.1,210.3 520.3,210.4 521.4,210.4 522.6,210.4 523.7,210.8 524.9,210.7 526.0,210.4 527.2,210.2 528.3,210.4 529.5,210.0 530.6,210.1 531.8,209.6 532.9,209.5 534.1,208.9 535.2,208.6 536.4,208.4 537.5,207.4 538.7,205.8 539.8,204.5 541.0,202.8 542.1,202.0 543.3,200.7 544.4,198.7 545.6,197.0 546.7,195.3 547.9,193.0 549.0,190.7 550.2,188.0 551.3,184.5 552.5,181.1 553.6,177.6 554.8,173.4 555.9,169.5 557.1,165.4 558.2,162.0 559.4,159.6 560.5,156.5 561.7,154.6 562.8,152.2 564.0,150.8 565.1,150.1 566.3,150.6 567.4,152.1 568.6,154.2 569.7,156.3 570.9,159.7 572.0,162.8 573.2,166.3 574.3,170.1 575.5,174.1 576.6,177.9 577.8,181.6 578.9,185.2 580.1,187.9 581.2,190.7 582.4,192.9 583.5,195.7 584.7,197.5 585.8,199.4 587.0,201.0 588.1,202.8 589.3,204.2 590.4,205.4 591.6,205.9 592.7,206.4 593.9,206.7 595.0,207.1 596.2,208.0 597.3,208.7 598.5,208.8 599.6,209.0 600.8,209.2 601.9,208.8 603.1,209.0 604.2,209.7 605.4,209.9 606.5,210.9 607.7,211.3 608.8,210.9 610.0,210.7 611.1,210.5 612.3,210.6 613.4,210.3 614.6,210.4 615.7,210.2 616.9,210.1 618.0,210.1 619.2,210.3 620.3,210.2 621.5,210.7 622.6,210.6 623.8,211.2 624.9,211.6 626.1,212.1 627.2,212.5 628.4,212.6 629.5,212.5 630.7,212.1 631.8,211.8 633.0,211.5 634.1,211.3 635.3,211.2 636.4,211.1 637.6,210.9 638.7,210.9 639.9,210.9 641.0,211.1 642.2,211.9 643.3,212.7 644.5,213.5 645.6,213.0 646.8,212.3 647.9,212.0 649.1,211.5 650.2,211.8 651.4,211.7 652.5,211.2 653.7,211.3 654.8,211.7 656.0,211.7 657.1,212.4 658.3,212.3 659.4,212.3 660.6,212.6 661.7,212.8 662.9,212.7 664.0,213.1 665.2,212.7 666.3,212.7 667.5,212.4 668.6,212.0 669.8,212.3 670.9,212.5 672.1,211.7 673.2,211.8 674.4,212.2 675.5,212.2 676.7,212.4 677.8,212.5" fill="none" stroke="#ec6c5c" stroke-width="1.25" stroke-linejoin="round"/>
<polyline points="495.0,208.0 496.1,207.7 497.3,207.5 498.4,207.4 499.6,207.3 500.7,207.5 501.9,207.5 503.0,207.8 504.2,208.5 505.3,207.7 506.5,207.8 507.6,207.6 508.8,207.2 509.9,207.6 511.1,207.3 512.2,206.9 513.4,207.0 514.5,206.5 515.7,206.4 516.8,206.0 518.0,206.2 519.1,206.3 520.3,206.1 521.4,205.9 522.6,205.9 523.7,206.1 524.9,205.4 526.0,205.0 527.2,204.9 528.3,204.4 529.5,204.0 530.6,203.6 531.8,203.3 532.9,202.8 534.1,202.0 535.2,200.8 536.4,200.3 537.5,199.2 538.7,199.0 539.8,197.7 541.0,196.8 542.1,195.2 543.3,193.3 544.4,191.6 545.6,189.3 546.7,187.2 547.9,184.3 549.0,181.3 550.2,177.9 551.3,173.8 552.5,169.3 553.6,165.0 554.8,161.3 555.9,157.0 557.1,152.8 558.2,148.9 559.4,145.7 560.5,142.9 561.7,141.0 562.8,139.0 564.0,138.2 565.1,137.7 566.3,139.0 567.4,140.1 568.6,142.0 569.7,145.0 570.9,149.0 572.0,153.3 573.2,156.7 574.3,161.1 575.5,165.3 576.6,168.8 577.8,172.7 578.9,176.4 580.1,180.2 581.2,183.3 582.4,186.6 583.5,189.3 584.7,192.0 585.8,194.2 587.0,196.2 588.1,197.6 589.3,199.2 590.4,199.7 591.6,200.7 592.7,201.4 593.9,201.8 595.0,201.8 596.2,203.0 597.3,203.6 598.5,204.7 599.6,204.6 600.8,204.9 601.9,204.7 603.1,205.1 604.2,204.8 605.4,205.5 606.5,205.9 607.7,205.9 608.8,206.4 610.0,206.2 611.1,206.5 612.3,206.2 613.4,206.6 614.6,207.1 615.7,207.2 616.9,207.6 618.0,207.7 619.2,207.7 620.3,207.8 621.5,207.8 622.6,207.7 623.8,207.6 624.9,207.6 626.1,207.7 627.2,208.0 628.4,208.2 629.5,207.6 630.7,207.8 631.8,208.0 633.0,208.3 634.1,208.0 635.3,208.7 636.4,208.8 637.6,207.8 638.7,208.2 639.9,208.0 641.0,207.8 642.2,207.6 643.3,208.0 644.5,208.0 645.6,208.3 646.8,208.2 647.9,208.0 649.1,208.6 650.2,208.8 651.4,209.0 652.5,209.0 653.7,209.1 654.8,208.8 656.0,208.5 657.1,208.1 658.3,208.6 659.4,208.3 660.6,208.8 661.7,208.4 662.9,208.6 664.0,208.4 665.2,208.1 666.3,208.0 667.5,207.9 668.6,208.2 669.8,207.9 670.9,207.9 672.1,208.3 673.2,208.1 674.4,208.2 675.5,208.4 676.7,208.9 677.8,208.8" fill="none" stroke="#f27c52" stroke-width="1.25" stroke-linejoin="round"/>
<polyline points="495.0,203.8 496.1,203.9 497.3,204.4 498.4,204.3 499.6,203.5 500.7,203.8 501.9,203.7 503.0,203.3 504.2,203.6 505.3,203.4 506.5,203.7 507.6,204.1 508.8,203.7 509.9,203.5 511.1,203.3 512.2,202.9 513.4,202.6 514.5,202.3 515.7,202.0 516.8,201.7 518.0,202.0 519.1,201.1 520.3,201.1 521.4,201.1 522.6,201.3 523.7,200.9 524.9,200.9 526.0,200.2 527.2,199.8 528.3,199.5 529.5,199.3 530.6,199.0 531.8,198.2 532.9,198.1 534.1,197.5 535.2,196.6 536.4,195.7 537.5,194.5 538.7,193.0 539.8,191.6 541.0,189.9 542.1,187.6 543.3,185.5 544.4,183.1 545.6,179.8 546.7,177.2 547.9,173.5 549.0,169.9 550.2,165.6 551.3,161.3 552.5,157.0 553.6,152.6 554.8,147.8 555.9,143.5 557.1,139.0 558.2,135.0 559.4,132.0 560.5,129.2 561.7,127.1 562.8,125.4 564.0,124.6 565.1,124.8 566.3,126.5 567.4,129.0 568.6,132.4 569.7,136.1 570.9,140.4 572.0,144.9 573.2,149.1 574.3,153.9 575.5,158.8 576.6,162.7 577.8,166.9 578.9,170.8 580.1,174.2 581.2,177.6 582.4,180.3 583.5,182.9 584.7,185.0 585.8,187.2 587.0,189.2 588.1,191.5 589.3,193.5 590.4,195.7 591.6,196.2 592.7,196.7 593.9,197.3 595.0,197.4 596.2,198.5 597.3,198.9 598.5,200.0 599.6,199.8 600.8,200.3 601.9,200.3 603.1,200.3 604.2,201.1 605.4,201.5 606.5,202.0 607.7,202.4 608.8,202.1 610.0,202.0 611.1,201.8 612.3,202.6 613.4,203.0 614.6,203.2 615.7,203.6 616.9,203.5 618.0,203.5 619.2,203.7 620.3,203.4 621.5,203.3 622.6,202.7 623.8,202.5 624.9,203.4 626.1,203.4 627.2,204.1 628.4,204.1 629.5,203.9 630.7,204.0 631.8,202.8 633.0,203.3 634.1,203.7 635.3,203.5 636.4,203.8 637.6,204.3 638.7,204.6 639.9,204.4 641.0,204.6 642.2,204.9 643.3,204.2 644.5,204.2 645.6,204.6 646.8,204.6 647.9,205.0 649.1,205.0 650.2,204.8 651.4,204.7 652.5,204.3 653.7,204.4 654.8,204.4 656.0,204.5 657.1,204.2 658.3,204.5 659.4,205.3 660.6,205.2 661.7,205.3 662.9,205.1 664.0,205.0 665.2,204.7 666.3,204.6 667.5,204.5 668.6,204.4 669.8,204.5 670.9,204.6 672.1,205.4 673.2,205.1 674.4,205.6 675.5,205.2 676.7,205.1 677.8,205.0" fill="none" stroke="#f88c48" stroke-width="1.25" stroke-linejoin="round"/>
<polyline points="495.0,199.0 496.1,199.5 497.3,200.2 498.4,200.5 499.6,200.4 500.7,200.6 501.9,200.1 503.0,199.9 504.2,199.8 505.3,199.2 506.5,198.9 507.6,199.0 508.8,198.8 509.9,198.5 511.1,198.5 512.2,198.3 513.4,198.5 514.5,198.1 515.7,198.2 516.8,198.0 518.0,197.1 519.1,196.6 520.3,196.5 521.4,196.7 522.6,196.8 523.7,196.8 524.9,197.0 526.0,196.0 527.2,195.5 528.3,194.3 529.5,194.0 530.6,193.4 531.8,192.8 532.9,191.6 534.1,190.9 535.2,189.3 536.4,187.9 537.5,186.0 538.7,184.5 539.8,181.8 541.0,180.0 542.1,177.0 543.3,174.1 544.4,170.9 545.6,167.7 546.7,163.4 547.9,159.2 549.0,154.8 550.2,150.8 551.3,146.3 552.5,141.5 553.6,136.9 554.8,132.1 555.9,127.1 557.1,122.6 558.2,118.6 559.4,116.1 560.5,113.8 561.7,112.3 562.8,112.2 564.0,112.8 565.1,115.3 566.3,117.8 567.4,121.6 568.6,126.1 569.7,130.2 570.9,135.3 572.0,140.0 573.2,144.8 574.3,150.0 575.5,154.7 576.6,159.0 577.8,163.5 578.9,167.1 580.1,170.3 581.2,173.4 582.4,176.4 583.5,178.5 584.7,180.9 585.8,183.4 587.0,184.9 588.1,187.0 589.3,188.5 590.4,189.8 591.6,190.9 592.7,192.0 593.9,192.8 595.0,193.7 596.2,194.3 597.3,195.0 598.5,195.4 599.6,195.9 600.8,196.6 601.9,197.1 603.1,197.7 604.2,197.7 605.4,198.0 606.5,198.2 607.7,198.1 608.8,198.6 610.0,198.5 611.1,198.6 612.3,198.6 613.4,199.0 614.6,198.4 615.7,198.9 616.9,198.5 618.0,199.2 619.2,199.9 620.3,199.7 621.5,199.8 622.6,199.7 623.8,199.5 624.9,200.1 626.1,200.3 627.2,200.5 628.4,200.7 629.5,200.3 630.7,200.4 631.8,199.9 633.0,200.2 634.1,200.2 635.3,200.4 636.4,200.6 637.6,200.6 638.7,200.6 639.9,200.6 641.0,200.6 642.2,200.5 643.3,200.5 644.5,200.6 645.6,200.3 646.8,200.1 647.9,200.2 649.1,201.0 650.2,200.9 651.4,200.8 652.5,201.0 653.7,201.2 654.8,201.1 656.0,201.1 657.1,200.7 658.3,201.0 659.4,201.5 660.6,201.7 661.7,201.7 662.9,201.8 664.0,201.4 665.2,201.4 666.3,201.2 667.5,201.1 668.6,200.7 669.8,201.1 670.9,201.0 672.1,201.7 673.2,202.1 674.4,202.4 675.5,202.0 676.7,202.1 677.8,202.3" fill="none" stroke="#f89b40" stroke-width="1.25" stroke-linejoin="round"/>
<polyline points="495.0,196.8 496.1,196.3 497.3,196.4 498.4,196.5 499.6,196.1 500.7,195.0 501.9,194.8 503.0,194.2 504.2,193.9 505.3,194.3 506.5,194.5 507.6,194.8 508.8,194.9 509.9,194.3 511.1,194.3 512.2,194.6 513.4,194.3 514.5,194.2 515.7,193.6 516.8,193.5 518.0,192.6 519.1,192.8 520.3,192.2 521.4,191.6 522.6,191.2 523.7,191.0 524.9,190.5 526.0,189.6 527.2,188.9 528.3,188.4 529.5,186.8 530.6,185.6 531.8,184.1 532.9,182.9 534.1,181.5 535.2,179.6 536.4,178.5 537.5,176.0 538.7,172.7 539.8,169.3 541.0,165.7 542.1,162.8 543.3,159.2 544.4,155.4 545.6,150.9 546.7,146.2 547.9,140.9 549.0,135.5 550.2,130.1 551.3,124.9 552.5,119.7 553.6,114.8 554.8,109.5 555.9,104.7 557.1,101.0 558.2,98.3 559.4,96.6 560.5,96.3 561.7,96.7 562.8,98.5 564.0,101.4 565.1,104.7 566.3,108.9 567.4,113.8 568.6,119.0 569.7,124.1 570.9,129.8 572.0,135.2 573.2,140.8 574.3,146.0 575.5,151.1 576.6,155.3 577.8,159.3 578.9,163.4 580.1,166.7 581.2,169.8 582.4,172.5 583.5,175.4 584.7,177.7 585.8,180.1 587.0,182.2 588.1,183.6 589.3,185.0 590.4,186.0 591.6,187.4 592.7,188.3 593.9,189.0 595.0,189.9 596.2,190.4 597.3,190.9 598.5,191.3 599.6,191.8 600.8,191.7 601.9,191.5 603.1,191.5 604.2,192.0 605.4,192.8 606.5,193.2 607.7,193.7 608.8,193.9 610.0,194.4 611.1,194.7 612.3,194.8 613.4,194.9 614.6,194.3 615.7,194.9 616.9,195.1 618.0,195.1 619.2,194.9 620.3,195.4 621.5,195.7 622.6,195.7 623.8,195.8 624.9,195.9 626.1,195.4 627.2,196.0 628.4,195.8 629.5,196.2 630.7,196.5 631.8,196.8 633.0,197.3 634.1,197.0 635.3,197.3 636.4,197.0 637.6,197.2 638.7,196.8 639.9,197.1 641.0,197.0 642.2,197.1 643.3,197.5 644.5,197.4 645.6,197.3 646.8,196.9 647.9,196.6 649.1,196.6 650.2,196.6 651.4,196.7 652.5,196.6 653.7,196.7 654.8,197.3 656.0,197.3 657.1,197.3 658.3,197.3 659.4,197.0 660.6,197.2 661.7,196.9 662.9,197.4 664.0,197.6 665.2,197.7 666.3,197.9 667.5,197.7 668.6,198.1 669.8,198.0 670.9,197.8 672.1,198.2 673.2,198.9 674.4,198.4 675.5,198.3 676.7,197.8 677.8,197.9" fill="none" stroke="#f8aa38" stroke-width="1.25" stroke-linejoin="round"/>
<polyline points="495.0,192.6 496.1,192.7 497.3,192.4 498.4,192.6 499.6,192.0 500.7,191.8 501.9,191.3 503.0,191.2 504.2,190.6 505.3,190.7 506.5,190.5 507.6,190.2 508.8,190.5 509.9,190.5 511.1,190.4 512.2,190.1 513.4,189.6 514.5,189.0 515.7,188.7 516.8,188.0 518.0,187.5 519.1,186.7 520.3,186.4 521.4,186.1 522.6,186.1 523.7,186.0 524.9,185.2 526.0,184.5 527.2,183.4 528.3,182.2 529.5,180.5 530.6,178.9 531.8,176.5 532.9,174.9 534.1,172.9 535.2,170.7 536.4,168.3 537.5,165.6 538.7,162.4 539.8,158.6 541.0,154.8 542.1,150.3 543.3,145.7 544.4,140.6 545.6,135.3 546.7,129.7 547.9,124.0 549.0,118.6 550.2,112.1 551.3,106.4 552.5,100.4 553.6,95.2 554.8,89.8 555.9,85.4 557.1,81.8 558.2,80.4 559.4,79.8 560.5,80.4 561.7,82.4 562.8,85.9 564.0,89.9 565.1,95.0 566.3,100.2 567.4,106.1 568.6,112.2 569.7,118.0 570.9,124.1 572.0,129.5 573.2,135.3 574.3,140.1 575.5,145.4 576.6,150.4 577.8,154.9 578.9,158.8 580.1,162.1 581.2,165.4 582.4,167.8 583.5,171.0 584.7,173.6 585.8,175.8 587.0,177.5 588.1,179.1 589.3,179.4 590.4,180.6 591.6,182.0 592.7,183.5 593.9,184.6 595.0,185.8 596.2,186.7 597.3,187.6 598.5,188.1 599.6,188.8 600.8,189.3 601.9,189.2 603.1,189.6 604.2,189.3 605.4,189.6 606.5,189.3 607.7,189.5 608.8,189.1 610.0,189.2 611.1,188.9 612.3,189.6 613.4,190.4 614.6,191.4 615.7,191.6 616.9,191.9 618.0,192.4 619.2,192.5 620.3,192.3 621.5,192.5 622.6,192.4 623.8,192.5 624.9,192.6 626.1,192.3 627.2,192.6 628.4,193.1 629.5,192.7 630.7,192.3 631.8,192.2 633.0,192.3 634.1,192.3 635.3,192.2 636.4,193.0 637.6,192.7 638.7,192.7 639.9,192.6 641.0,192.7 642.2,192.7 643.3,193.1 644.5,192.9 645.6,193.2 646.8,193.2 647.9,193.6 649.1,193.6 650.2,193.6 651.4,194.6 652.5,194.9 653.7,194.7 654.8,194.2 656.0,194.6 657.1,194.3 658.3,194.0 659.4,193.9 660.6,194.0 661.7,193.7 662.9,193.9 664.0,193.9 665.2,194.3 666.3,193.9 667.5,194.1 668.6,193.9 669.8,194.2 670.9,193.9 672.1,194.0 673.2,194.3 674.4,194.4 675.5,194.1 676.7,194.5 677.8,194.7" fill="none" stroke="#f6bd30" stroke-width="1.25" stroke-linejoin="round"/>
<polyline points="495.0,188.8 496.1,188.5 497.3,188.4 498.4,187.7 499.6,187.7 500.7,187.8 501.9,187.7 503.0,187.5 504.2,187.6 505.3,187.7 506.5,187.0 507.6,187.1 508.8,186.6 509.9,185.8 511.1,185.3 512.2,184.7 513.4,184.3 514.5,184.0 515.7,183.4 516.8,183.0 518.0,182.5 519.1,182.0 520.3,181.6 521.4,180.6 522.6,180.0 523.7,179.3 524.9,178.0 526.0,177.2 527.2,175.9 528.3,174.4 529.5,172.4 530.6,170.0 531.8,167.9 532.9,164.5 534.1,162.0 535.2,158.8 536.4,155.8 537.5,151.9 538.7,147.7 539.8,142.4 541.0,137.6 542.1,132.1 543.3,126.7 544.4,120.9 545.6,114.4 546.7,108.4 547.9,102.0 549.0,95.8 550.2,89.4 551.3,82.9 552.5,77.5 553.6,72.2 554.8,67.7 555.9,64.6 557.1,62.8 558.2,62.2 559.4,63.1 560.5,65.8 561.7,69.1 562.8,73.9 564.0,79.4 565.1,85.2 566.3,92.3 567.4,98.9 568.6,105.9 569.7,112.7 570.9,119.2 572.0,125.4 573.2,131.1 574.3,136.6 575.5,141.6 576.6,145.9 577.8,150.3 578.9,154.2 580.1,157.8 581.2,160.8 582.4,163.9 583.5,166.3 584.7,169.0 585.8,170.7 587.0,172.8 588.1,174.1 589.3,176.0 590.4,177.6 591.6,178.8 592.7,180.2 593.9,181.3 595.0,182.1 596.2,182.6 597.3,182.9 598.5,183.2 599.6,183.4 600.8,183.8 601.9,183.8 603.1,184.7 604.2,185.0 605.4,185.4 606.5,186.1 607.7,186.3 608.8,186.5 610.0,186.5 611.1,186.9 612.3,187.1 613.4,187.6 614.6,187.9 615.7,188.5 616.9,187.9 618.0,188.0 619.2,187.8 620.3,188.1 621.5,188.3 622.6,188.4 623.8,188.8 624.9,189.1 626.1,189.0 627.2,188.7 628.4,189.0 629.5,189.2 630.7,189.8 631.8,189.8 633.0,190.2 634.1,190.3 635.3,189.9 636.4,190.3 637.6,189.8 638.7,189.7 639.9,189.8 641.0,189.6 642.2,189.8 643.3,189.7 644.5,189.9 645.6,190.1 646.8,190.0 647.9,190.5 649.1,190.7 650.2,190.8 651.4,191.2 652.5,191.5 653.7,191.2 654.8,191.4 656.0,191.2 657.1,191.0 658.3,191.2 659.4,190.9 660.6,190.6 661.7,191.1 662.9,190.9 664.0,191.0 665.2,190.4 666.3,190.6 667.5,190.2 668.6,190.1 669.8,190.2 670.9,190.4 672.1,190.3 673.2,190.6 674.4,190.7 675.5,190.4 676.7,190.7 677.8,191.3" fill="none" stroke="#f4d028" stroke-width="1.25" stroke-linejoin="round"/>
<polyline points="495.0,185.1 496.1,184.6 497.3,184.3 498.4,183.9 499.6,183.2 500.7,183.1 501.9,183.0 503.0,182.8 504.2,182.6 505.3,183.3 506.5,182.9 507.6,183.1 508.8,182.8 509.9,181.6 511.1,180.6 512.2,180.4 513.4,180.8 514.5,180.2 515.7,179.8 516.8,179.1 518.0,178.0 519.1,176.6 520.3,175.8 521.4,174.8 522.6,174.6 523.7,173.8 524.9,172.5 526.0,170.9 527.2,169.6 528.3,167.7 529.5,166.1 530.6,163.7 531.8,161.7 532.9,159.3 534.1,156.4 535.2,152.7 536.4,149.2 537.5,144.9 538.7,140.4 539.8,135.4 541.0,130.4 542.1,124.8 543.3,118.6 544.4,112.6 545.6,105.8 546.7,99.0 547.9,92.2 549.0,85.7 550.2,79.7 551.3,73.4 552.5,68.0 553.6,63.3 554.8,58.9 555.9,56.6 557.1,55.4 558.2,55.6 559.4,56.8 560.5,59.1 561.7,63.0 562.8,68.5 564.0,74.4 565.1,80.5 566.3,87.4 567.4,94.8 568.6,101.6 569.7,109.0 570.9,115.3 572.0,121.3 573.2,127.5 574.3,132.5 575.5,137.6 576.6,142.5 577.8,146.5 578.9,150.9 580.1,154.3 581.2,157.2 582.4,159.9 583.5,162.5 584.7,164.5 585.8,166.8 587.0,168.5 588.1,170.1 589.3,171.2 590.4,172.4 591.6,173.6 592.7,174.2 593.9,175.5 595.0,176.6 596.2,177.3 597.3,178.2 598.5,179.1 599.6,179.3 600.8,179.9 601.9,180.5 603.1,180.5 604.2,180.6 605.4,180.9 606.5,181.1 607.7,181.3 608.8,182.4 610.0,183.0 611.1,183.4 612.3,184.1 613.4,183.7 614.6,183.9 615.7,184.0 616.9,184.1 618.0,184.1 619.2,184.1 620.3,184.6 621.5,184.9 622.6,184.7 623.8,185.0 624.9,185.4 626.1,185.1 627.2,186.1 628.4,185.5 629.5,185.1 630.7,185.4 631.8,185.2 633.0,185.8 634.1,185.7 635.3,186.4 636.4,186.4 637.6,186.5 638.7,186.6 639.9,186.2 641.0,186.3 642.2,186.0 643.3,186.2 644.5,186.0 645.6,186.4 646.8,186.8 647.9,187.0 649.1,187.3 650.2,187.3 651.4,187.6 652.5,187.1 653.7,186.9 654.8,187.1 656.0,187.4 657.1,187.3 658.3,187.2 659.4,186.6 660.6,186.3 661.7,186.7 662.9,186.8 664.0,188.1 665.2,188.2 666.3,187.8 667.5,187.8 668.6,187.6 669.8,187.3 670.9,187.2 672.1,186.9 673.2,187.0 674.4,187.1 675.5,187.4 676.7,187.6 677.8,187.7" fill="none" stroke="#f1dc23" stroke-width="1.25" stroke-linejoin="round"/>
<polyline points="495.0,181.0 496.1,180.6 497.3,179.5 498.4,179.0 499.6,178.8 500.7,178.5 501.9,178.9 503.0,179.1 504.2,178.9 505.3,178.6 506.5,178.7 507.6,178.5 508.8,178.0 509.9,177.6 511.1,177.0 512.2,175.9 513.4,175.8 514.5,175.5 515.7,174.9 516.8,173.9 518.0,173.6 519.1,172.8 520.3,171.9 521.4,171.0 522.6,170.3 523.7,168.8 524.9,167.7 526.0,166.3 527.2,165.2 528.3,162.5 529.5,160.6 530.6,158.2 531.8,155.3 532.9,152.6 534.1,149.9 535.2,146.2 536.4,143.2 537.5,138.9 538.7,134.7 539.8,129.6 541.0,124.2 542.1,118.4 543.3,112.0 544.4,105.9 545.6,98.8 546.7,92.3 547.9,85.5 549.0,79.0 550.2,72.8 551.3,67.0 552.5,62.4 553.6,58.3 554.8,54.3 555.9,52.5 557.1,51.2 558.2,52.1 559.4,54.4 560.5,57.8 561.7,62.8 562.8,67.6 564.0,73.2 565.1,78.9 566.3,85.6 567.4,91.7 568.6,98.5 569.7,104.2 570.9,111.0 572.0,116.7 573.2,122.6 574.3,128.4 575.5,133.9 576.6,138.9 577.8,143.3 578.9,147.0 580.1,150.4 581.2,152.9 582.4,155.5 583.5,158.3 584.7,160.5 585.8,162.4 587.0,164.4 588.1,165.6 589.3,167.5 590.4,169.2 591.6,169.8 592.7,170.5 593.9,171.8 595.0,172.4 596.2,173.6 597.3,174.5 598.5,175.2 599.6,175.7 600.8,175.7 601.9,176.5 603.1,175.9 604.2,176.7 605.4,177.3 606.5,178.2 607.7,178.9 608.8,178.9 610.0,179.4 611.1,179.8 612.3,180.3 613.4,180.1 614.6,180.4 615.7,180.8 616.9,180.2 618.0,180.5 619.2,180.6 620.3,180.4 621.5,180.7 622.6,180.9 623.8,181.1 624.9,181.3 626.1,181.2 627.2,181.4 628.4,181.9 629.5,181.6 630.7,181.9 631.8,181.9 633.0,182.0 634.1,182.5 635.3,182.3 636.4,182.6 637.6,182.9 638.7,183.0 639.9,182.4 641.0,182.5 642.2,182.7 643.3,182.7 644.5,183.3 645.6,183.2 646.8,183.0 647.9,182.7 649.1,183.0 650.2,182.9 651.4,182.8 652.5,183.0 653.7,183.3 654.8,183.4 656.0,183.7 657.1,183.9 658.3,184.3 659.4,184.1 660.6,183.5 661.7,183.9 662.9,184.1 664.0,183.8 665.2,183.9 666.3,184.5 667.5,184.4 668.6,184.4 669.8,184.7 670.9,184.5 672.1,183.9 673.2,183.6 674.4,183.6 675.5,183.6 676.7,184.0 677.8,184.0" fill="none" stroke="#eee81e" stroke-width="1.25" stroke-linejoin="round"/>
<path d="M557 42 L574 297.5" stroke="#1a1a1a" stroke-width="1.3" stroke-dasharray="4.5 3" fill="none"/>
<path d="M495 9.3H677.8" stroke="#333" stroke-width="1.15"/>
<path d="M495 310.4H677.8" stroke="#333" stroke-width="1.15"/>
<path d="M495 9.3V310.4" stroke="#8a8a8a" stroke-width="1.6"/>
<path d="M677.8 9.3V310.4" stroke="#8a8a8a" stroke-width="1.6"/>
<path d="M495 310.4v2.6M540.7 310.4v2.6M586.4 310.4v2.6M632.1 310.4v2.6M677.8 310.4v2.6M517.85 310.4v1.6M563.55 310.4v1.6M609.25 310.4v1.6M654.95 310.4v1.6" stroke="#2a2a2a" stroke-width="0.9" fill="none"/>
<text transform="translate(495,320) scale(0.94,1)" font-size="6.6" text-anchor="middle" fill="#222">2600</text>
<text transform="translate(540.7,320) scale(0.94,1)" font-size="6.6" text-anchor="middle" fill="#222">2650</text>
<text transform="translate(586.4,320) scale(0.94,1)" font-size="6.6" text-anchor="middle" fill="#222">2700</text>
<text transform="translate(632.1,320) scale(0.94,1)" font-size="6.6" text-anchor="middle" fill="#222">2750</text>
<text transform="translate(677.8,320) scale(0.94,1)" font-size="6.6" text-anchor="middle" fill="#222">2800</text>
<text transform="translate(489.0,184.36) rotate(-90)" font-size="7.6" textLength="48.64" lengthAdjust="spacingAndGlyphs" fill="#000">Intensity (a.u.)</text>
<text x="547.29" y="332.0" font-size="7.6" textLength="79.12" lengthAdjust="spacingAndGlyphs" fill="#000">2D peak position (cm<tspan font-size="4.71" dy="-2.74">-1</tspan><tspan dy="2.74">)</tspan></text>
<rect x="604.6" y="24.4" width="52.9" height="82.7" fill="#fff"/>
<polyline points="604.6,93.7 605.1,93.5 605.6,93.2 606.1,93.0 606.5,93.0 607.0,93.0 607.5,92.8 608.0,92.5 608.5,92.1 609.0,92.2 609.5,92.5 609.9,92.8 610.4,92.8 610.9,92.6 611.4,92.5 611.9,92.3 612.4,92.2 612.9,92.1 613.3,92.2 613.8,92.3 614.3,92.2 614.8,92.1 615.3,91.9 615.8,91.2 616.2,90.2 616.7,89.0 617.2,88.5 617.7,88.0 618.2,87.2 618.7,85.6 619.2,83.8 619.6,81.4 620.1,78.4 620.6,75.0 621.1,71.1 621.6,66.9 622.1,62.2 622.6,57.5 623.0,52.8 623.5,48.1 624.0,43.1 624.5,38.6 625.0,34.9 625.5,32.8 626.0,32.1 626.4,32.7 626.9,34.1 627.4,36.8 627.9,40.6 628.4,45.4 628.9,50.4 629.4,55.7 629.8,60.8 630.3,65.7 630.8,70.3 631.3,74.4 631.8,78.0 632.3,81.0 632.7,83.5 633.2,85.6 633.7,87.4 634.2,88.8 634.7,89.6 635.2,90.0 635.7,90.1 636.1,90.4 636.6,90.6 637.1,90.8 637.6,91.4 638.1,92.1 638.6,92.7 639.1,92.8 639.5,92.9 640.0,93.0 640.5,93.0 641.0,93.1 641.5,93.2 642.0,93.4 642.5,93.7 642.9,93.5 643.4,93.1 643.9,92.8 644.4,92.7 644.9,92.6 645.4,92.6 645.9,93.3 646.3,94.0 646.8,94.4 647.3,94.1 647.8,93.8 648.3,93.6 648.8,93.5 649.2,93.4 649.7,93.6 650.2,93.8 650.7,94.0 651.2,94.3 651.7,94.6 652.2,94.8 652.6,94.4 653.1,94.1 653.6,94.0 654.1,94.3 654.6,94.6 655.1,94.5 655.6,94.2 656.0,93.9 656.5,94.1 657.0,94.5 657.5,94.8" fill="none" stroke="#7d1fbf" stroke-width="1.4" stroke-linejoin="round"/>
<polyline points="604.6,94.0 605.1,94.1 605.6,94.3 606.1,94.3 606.5,94.1 607.0,93.8 607.5,93.7 608.0,93.7 608.5,93.8 609.0,93.8 609.5,93.6 609.9,93.5 610.4,93.3 610.9,93.1 611.4,92.9 611.9,92.9 612.4,92.9 612.9,92.8 613.3,92.8 613.8,92.7 614.3,92.5 614.8,92.1 615.3,91.7 615.8,91.2 616.2,90.6 616.7,89.9 617.2,89.3 617.7,88.5 618.2,87.4 618.7,86.1 619.2,84.4 619.6,82.2 620.1,79.2 620.6,75.9 621.1,72.1 621.6,68.0 622.1,63.6 622.6,59.0 623.0,54.4 623.5,49.8 624.0,45.6 624.5,41.9 625.0,39.0 625.5,37.3 626.0,36.7 626.4,37.3 626.9,38.5 627.4,40.8 627.9,44.4 628.4,49.0 628.9,54.0 629.4,58.6 629.8,62.9 630.3,67.0 630.8,70.9 631.3,74.5 631.8,77.7 632.3,80.5 632.7,82.9 633.2,85.0 633.7,86.9 634.2,88.5 634.7,89.6 635.2,90.1 635.7,90.5 636.1,91.2 636.6,91.9 637.1,92.6 637.6,93.0 638.1,93.3 638.6,93.5 639.1,93.2 639.5,92.8 640.0,92.5 640.5,92.5 641.0,92.5 641.5,92.5 642.0,92.5 642.5,92.5 642.9,92.9 643.4,93.4 643.9,93.8 644.4,93.7 644.9,93.4 645.4,93.3 645.9,93.4 646.3,93.4 646.8,93.5 647.3,93.5 647.8,93.5 648.3,93.7 648.8,94.2 649.2,94.6 649.7,94.6 650.2,94.5 650.7,94.4 651.2,94.4 651.7,94.4 652.2,94.3 652.6,93.9 653.1,93.5 653.6,93.3 654.1,93.5 654.6,93.7 655.1,93.8 655.6,94.0 656.0,94.2 656.5,94.2 657.0,94.2 657.5,94.2" fill="none" stroke="#8a22c4" stroke-width="1.3" stroke-linejoin="round"/>
<polyline points="604.6,94.8 605.1,95.0 605.6,95.3 606.1,95.4 606.5,95.2 607.0,95.0 607.5,94.9 608.0,94.9 608.5,94.9 609.0,94.8 609.5,94.6 609.9,94.4 610.4,94.3 610.9,94.2 611.4,94.1 611.9,94.0 612.4,94.0 612.9,93.9 613.3,93.9 613.8,93.9 614.3,93.7 614.8,93.4 615.3,93.0 615.8,92.8 616.2,92.8 616.7,92.8 617.2,92.6 617.7,92.3 618.2,91.9 618.7,91.2 619.2,90.2 619.6,89.1 620.1,87.9 620.6,86.3 621.1,84.3 621.6,81.8 622.1,79.0 622.6,76.4 623.0,73.7 623.5,71.1 624.0,68.4 624.5,66.0 625.0,64.0 625.5,62.8 626.0,62.4 626.4,62.8 626.9,63.8 627.4,65.5 627.9,67.8 628.4,70.5 628.9,73.4 629.4,76.2 629.8,78.9 630.3,81.3 630.8,83.7 631.3,85.8 631.8,87.6 632.3,88.9 632.7,89.9 633.2,90.8 633.7,91.8 634.2,92.5 634.7,93.0 635.2,93.1 635.7,93.1 636.1,93.4 636.6,93.8 637.1,94.1 637.6,94.0 638.1,93.8 638.6,93.7 639.1,93.6 639.5,93.5 640.0,93.5 640.5,93.5 641.0,93.6 641.5,93.8 642.0,94.3 642.5,94.8 642.9,94.7 643.4,94.5 643.9,94.2 644.4,94.2 644.9,94.3 645.4,94.4 645.9,95.0 646.3,95.5 646.8,95.7 647.3,95.0 647.8,94.3 648.3,94.2 648.8,94.4 649.2,94.6 649.7,94.5 650.2,94.3 650.7,94.0 651.2,94.2 651.7,94.3 652.2,94.5 652.6,94.7 653.1,94.9 653.6,95.0 654.1,94.8 654.6,94.7 655.1,94.9 655.6,95.3 656.0,95.7 656.5,95.4 657.0,94.8 657.5,94.3" fill="none" stroke="#9a35c8" stroke-width="1.1" stroke-linejoin="round"/>
<polyline points="604.6,94.8 605.1,94.6 605.6,94.5 606.1,94.4 606.5,94.7 607.0,94.9 607.5,95.0 608.0,94.9 608.5,94.7 609.0,94.7 609.5,94.8 609.9,94.9 610.4,94.8 610.9,94.6 611.4,94.5 611.9,94.7 612.4,94.9 612.9,95.0 613.3,94.7 613.8,94.5 614.3,94.4 614.8,94.4 615.3,94.5 615.8,94.4 616.2,94.3 616.7,94.1 617.2,93.8 617.7,93.4 618.2,93.0 618.7,92.7 619.2,92.3 619.6,91.7 620.1,90.8 620.6,89.6 621.1,88.3 621.6,86.9 622.1,85.2 622.6,82.9 623.0,80.3 623.5,77.7 624.0,76.0 624.5,74.7 625.0,73.7 625.5,72.3 626.0,71.6 626.4,71.7 626.9,72.7 627.4,74.2 627.9,76.1 628.4,78.2 628.9,80.4 629.4,82.4 629.8,84.1 630.3,85.6 630.8,87.5 631.3,89.3 631.8,90.8 632.3,91.7 632.7,92.4 633.2,92.9 633.7,93.2 634.2,93.4 634.7,93.8 635.2,94.2 635.7,94.6 636.1,94.7 636.6,94.6 637.1,94.5 637.6,94.4 638.1,94.3 638.6,94.3 639.1,94.7 639.5,95.1 640.0,95.3 640.5,95.3 641.0,95.3 641.5,95.3 642.0,95.3 642.5,95.2 642.9,95.1 643.4,95.1 643.9,95.0 644.4,95.3 644.9,95.6 645.4,95.9 645.9,95.5 646.3,95.1 646.8,94.9 647.3,95.1 647.8,95.2 648.3,95.3 648.8,95.2 649.2,95.1 649.7,95.1 650.2,95.1 650.7,95.1 651.2,95.2 651.7,95.4 652.2,95.4 652.6,95.2 653.1,94.9 653.6,94.9 654.1,95.1 654.6,95.4 655.1,95.5 655.6,95.5 656.0,95.4 656.5,95.3 657.0,95.2 657.5,95.1" fill="none" stroke="#7a35c8" stroke-width="1.1" stroke-linejoin="round"/>
<polyline points="604.6,95.3 605.1,95.2 605.6,95.1 606.1,95.1 606.5,95.3 607.0,95.6 607.5,95.8 608.0,96.1 608.5,96.4 609.0,96.2 609.5,95.8 609.9,95.4 610.4,95.3 610.9,95.2 611.4,95.1 611.9,95.2 612.4,95.2 612.9,95.3 613.3,95.4 613.8,95.6 614.3,95.6 614.8,95.7 615.3,95.7 615.8,95.6 616.2,95.6 616.7,95.5 617.2,95.3 617.7,95.2 618.2,94.9 618.7,94.6 619.2,94.1 619.6,93.8 620.1,93.8 620.6,93.7 621.1,93.2 621.6,92.3 622.1,91.2 622.6,90.3 623.0,89.4 623.5,88.5 624.0,87.4 624.5,86.4 625.0,85.6 625.5,85.1 626.0,84.8 626.4,85.0 626.9,85.6 627.4,86.4 627.9,87.4 628.4,88.2 628.9,89.2 629.4,90.4 629.8,91.7 630.3,92.9 630.8,93.6 631.3,94.1 631.8,94.5 632.3,94.8 632.7,95.0 633.2,95.1 633.7,95.1 634.2,95.1 634.7,95.2 635.2,95.4 635.7,95.7 636.1,95.7 636.6,95.7 637.1,95.7 637.6,95.7 638.1,95.8 638.6,95.9 639.1,95.8 639.5,95.7 640.0,95.6 640.5,95.4 641.0,95.2 641.5,95.1 642.0,95.2 642.5,95.2 642.9,95.3 643.4,95.5 643.9,95.6 644.4,95.8 644.9,96.0 645.4,96.1 645.9,95.9 646.3,95.8 646.8,95.6 647.3,95.6 647.8,95.5 648.3,95.5 648.8,95.5 649.2,95.6 649.7,95.8 650.2,95.9 650.7,96.1 651.2,95.9 651.7,95.7 652.2,95.5 652.6,95.5 653.1,95.5 653.6,95.5 654.1,95.7 654.6,95.8 655.1,95.9 655.6,96.0 656.0,96.1 656.5,95.8 657.0,95.5 657.5,95.2" fill="none" stroke="#5a3ad0" stroke-width="1.1" stroke-linejoin="round"/>
<path d="M604.6 24.4H657.5" stroke="#333" stroke-width="1.15"/>
<path d="M604.6 107.1H657.5" stroke="#333" stroke-width="1.15"/>
<path d="M604.6 24.4V107.1" stroke="#333" stroke-width="1.15"/>
<path d="M657.5 24.4V107.1" stroke="#333" stroke-width="1.15"/>
<path d="M604.6 107.1v2.8M631.05 107.1v2.8M657.5 107.1v2.8" stroke="#2a2a2a" stroke-width="0.9" fill="none"/>
<text transform="translate(604.6,117) scale(0.94,1)" font-size="6.8" text-anchor="middle" fill="#222">2600</text>
<text transform="translate(631.05,117) scale(0.94,1)" font-size="6.8" text-anchor="middle" fill="#222">2700</text>
<text transform="translate(657.5,117) scale(0.94,1)" font-size="6.8" text-anchor="middle" fill="#222">2800</text>
<text transform="translate(597.2,88.35) rotate(-90)" font-size="7.6" textLength="48.33" lengthAdjust="spacingAndGlyphs" fill="#000">Intensity (a.u.)</text>
<text x="592.19" y="127.9" font-size="7.6" textLength="79.12" lengthAdjust="spacingAndGlyphs" fill="#000">2D peak position (cm<tspan font-size="4.71" dy="-2.74">-1</tspan><tspan dy="2.74">)</tspan></text>
<text x="476.0" y="9.5" font-size="13.6" font-weight="bold" fill="#231f20" stroke="none">e</text>
</svg></body></html>
